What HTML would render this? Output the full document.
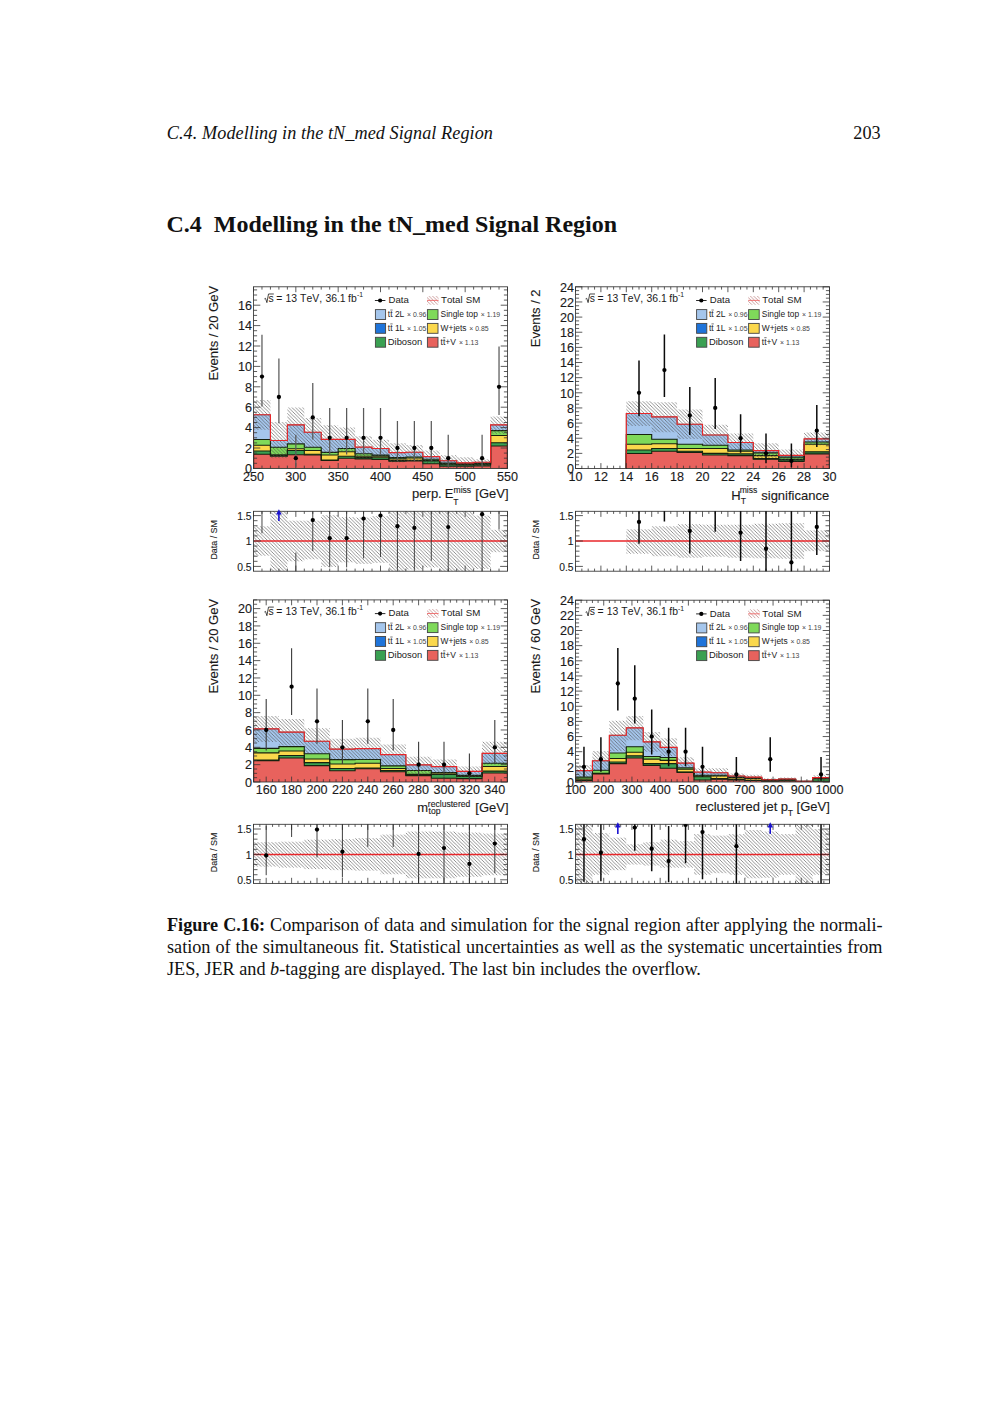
<!DOCTYPE html>
<html><head><meta charset="utf-8"><title>C.4 Modelling in the tN_med Signal Region</title>
<style>
html,body{margin:0;padding:0;background:#fff;}
body{width:1000px;height:1414px;position:relative;overflow:hidden;font-family:"Liberation Serif",serif;color:#111;}
.t{position:absolute;white-space:nowrap;line-height:1;}
.hdr{font-size:18.2px;font-style:italic;left:166.8px;top:124.4px;letter-spacing:0.07px;}
.pg{font-size:18.2px;left:853.3px;top:124.4px;}
.h1{font-size:24px;font-weight:bold;left:166.4px;top:212.2px;}
.cap{font-size:18.2px;left:167px;width:715.5px;text-align:justify;text-align-last:justify;white-space:normal;}
.cap.l{text-align-last:left;}
</style></head><body>
<div class="t hdr">C.4. Modelling in the tN_med Signal Region</div>
<div class="t pg">203</div>
<div class="t h1">C.4&nbsp; Modelling in the tN_med Signal Region</div>
<svg width="1000" height="1414" viewBox="0 0 1000 1414" style="position:absolute;left:0;top:0" font-family="Liberation Sans, sans-serif"><style>text{stroke:#1a1a1a;stroke-width:0.12px}.lg text{stroke:none}</style>
<defs><pattern id="h" patternUnits="userSpaceOnUse" width="3.5" height="3.5"><path d="M-1 -1L4.5 4.5M-1 2.5L1 4.5M2.5 -1L4.5 1" stroke="#4a4a4a" stroke-width="0.6" fill="none"/></pattern><pattern id="h2" patternUnits="userSpaceOnUse" width="2.6" height="2.6"><path d="M-1 -1L3.6 3.6M-1 1.6L1 3.6M1.6 -1L3.6 1" stroke="#4a4a4a" stroke-width="0.6" fill="none"/></pattern><pattern id="hr" patternUnits="userSpaceOnUse" width="3.5" height="3.5"><path d="M-1 -1L4.5 4.5M-1 2.5L1 4.5M2.5 -1L4.5 1" stroke="#b06868" stroke-width="0.65" fill="none"/></pattern></defs>
<clipPath id="c1"><rect x="253.5" y="286.8" width="254" height="181.6"/></clipPath>
<clipPath id="c1r"><rect x="253.5" y="511.3" width="254" height="59.9"/></clipPath>
<g clip-path="url(#c1)">
<polygon points="253.5,414.75 270.43,414.75 270.43,440.45 287.37,440.45 287.37,424.85 304.3,424.85 304.3,432.29 321.23,432.29 321.23,439.43 338.17,439.43 338.17,439.43 355.1,439.43 355.1,447.18 372.03,447.18 372.03,448.51 388.97,448.51 388.97,452.59 405.9,452.59 405.9,452.28 422.83,452.28 422.83,456.57 439.77,456.57 439.77,460.75 456.7,460.75 456.7,462.89 473.63,462.89 473.63,462.28 490.57,462.28 490.57,424.85 507.5,424.85 507.5,468.4 490.57,468.4 490.57,468.4 473.63,468.4 473.63,468.4 456.7,468.4 456.7,468.4 439.77,468.4 439.77,468.4 422.83,468.4 422.83,468.4 405.9,468.4 405.9,468.4 388.97,468.4 388.97,468.4 372.03,468.4 372.03,468.4 355.1,468.4 355.1,468.4 338.17,468.4 338.17,468.4 321.23,468.4 321.23,468.4 304.3,468.4 304.3,468.4 287.37,468.4 287.37,468.4 270.43,468.4 270.43,468.4 253.5,468.4" fill="#a5c6ec"/>
<polygon points="253.5,439.43 270.43,439.43 270.43,447.18 287.37,447.18 287.37,443.92 304.3,443.92 304.3,447.18 321.23,447.18 321.23,452.39 338.17,452.39 338.17,448.51 355.1,448.51 355.1,453.71 372.03,453.71 372.03,455.14 388.97,455.14 388.97,457.59 405.9,457.59 405.9,456.98 422.83,456.98 422.83,459.22 439.77,459.22 439.77,463.1 456.7,463.1 456.7,463.81 473.63,463.81 473.63,463.3 490.57,463.3 490.57,430.15 507.5,430.15 507.5,468.4 490.57,468.4 490.57,468.4 473.63,468.4 473.63,468.4 456.7,468.4 456.7,468.4 439.77,468.4 439.77,468.4 422.83,468.4 422.83,468.4 405.9,468.4 405.9,468.4 388.97,468.4 388.97,468.4 372.03,468.4 372.03,468.4 355.1,468.4 355.1,468.4 338.17,468.4 338.17,468.4 321.23,468.4 321.23,468.4 304.3,468.4 304.3,468.4 287.37,468.4 287.37,468.4 270.43,468.4 270.43,468.4 253.5,468.4" fill="#1f74da"/>
<polygon points="253.5,439.43 270.43,439.43 270.43,447.18 287.37,447.18 287.37,443.92 304.3,443.92 304.3,447.18 321.23,447.18 321.23,452.39 338.17,452.39 338.17,448.51 355.1,448.51 355.1,453.71 372.03,453.71 372.03,455.14 388.97,455.14 388.97,457.59 405.9,457.59 405.9,456.98 422.83,456.98 422.83,459.22 439.77,459.22 439.77,463.1 456.7,463.1 456.7,463.81 473.63,463.81 473.63,463.3 490.57,463.3 490.57,430.66 507.5,430.66 507.5,468.4 490.57,468.4 490.57,468.4 473.63,468.4 473.63,468.4 456.7,468.4 456.7,468.4 439.77,468.4 439.77,468.4 422.83,468.4 422.83,468.4 405.9,468.4 405.9,468.4 388.97,468.4 388.97,468.4 372.03,468.4 372.03,468.4 355.1,468.4 355.1,468.4 338.17,468.4 338.17,468.4 321.23,468.4 321.23,468.4 304.3,468.4 304.3,468.4 287.37,468.4 287.37,468.4 270.43,468.4 270.43,468.4 253.5,468.4" fill="#7fd95a"/>
<polygon points="253.5,445.25 270.43,445.25 270.43,455.14 287.37,455.14 287.37,448.82 304.3,448.82 304.3,450.45 321.23,450.45 321.23,455.04 338.17,455.04 338.17,451.77 355.1,451.77 355.1,456.26 372.03,456.26 372.03,456.16 388.97,456.16 388.97,458.91 405.9,458.91 405.9,458 422.83,458 422.83,460.44 439.77,460.44 439.77,463.81 456.7,463.81 456.7,464.32 473.63,464.32 473.63,463.91 490.57,463.91 490.57,435.56 507.5,435.56 507.5,468.4 490.57,468.4 490.57,468.4 473.63,468.4 473.63,468.4 456.7,468.4 456.7,468.4 439.77,468.4 439.77,468.4 422.83,468.4 422.83,468.4 405.9,468.4 405.9,468.4 388.97,468.4 388.97,468.4 372.03,468.4 372.03,468.4 355.1,468.4 355.1,468.4 338.17,468.4 338.17,468.4 321.23,468.4 321.23,468.4 304.3,468.4 304.3,468.4 287.37,468.4 287.37,468.4 270.43,468.4 270.43,468.4 253.5,468.4" fill="#fbd84c"/>
<polygon points="253.5,451.06 270.43,451.06 270.43,455.14 287.37,455.14 287.37,450.45 304.3,450.45 304.3,454.32 321.23,454.32 321.23,460.04 338.17,460.04 338.17,456.26 355.1,456.26 355.1,457.59 372.03,457.59 372.03,457.69 388.97,457.69 388.97,460.65 405.9,460.65 405.9,460.24 422.83,460.24 422.83,460.85 439.77,460.85 439.77,464.12 456.7,464.12 456.7,464.73 473.63,464.73 473.63,464.12 490.57,464.12 490.57,442.7 507.5,442.7 507.5,468.4 490.57,468.4 490.57,468.4 473.63,468.4 473.63,468.4 456.7,468.4 456.7,468.4 439.77,468.4 439.77,468.4 422.83,468.4 422.83,468.4 405.9,468.4 405.9,468.4 388.97,468.4 388.97,468.4 372.03,468.4 372.03,468.4 355.1,468.4 355.1,468.4 338.17,468.4 338.17,468.4 321.23,468.4 321.23,468.4 304.3,468.4 304.3,468.4 287.37,468.4 287.37,468.4 270.43,468.4 270.43,468.4 253.5,468.4" fill="#3aa052"/>
<polygon points="253.5,454.32 270.43,454.32 270.43,456.26 287.37,456.26 287.37,454.73 304.3,454.73 304.3,455.04 321.23,455.04 321.23,460.44 338.17,460.44 338.17,458.2 355.1,458.2 355.1,458.91 372.03,458.91 372.03,459.53 388.97,459.53 388.97,461.26 405.9,461.26 405.9,460.85 422.83,460.85 422.83,463.71 439.77,463.71 439.77,466.16 456.7,466.16 456.7,466.16 473.63,466.16 473.63,465.85 490.57,465.85 490.57,445.96 507.5,445.96 507.5,468.4 490.57,468.4 490.57,468.4 473.63,468.4 473.63,468.4 456.7,468.4 456.7,468.4 439.77,468.4 439.77,468.4 422.83,468.4 422.83,468.4 405.9,468.4 405.9,468.4 388.97,468.4 388.97,468.4 372.03,468.4 372.03,468.4 355.1,468.4 355.1,468.4 338.17,468.4 338.17,468.4 321.23,468.4 321.23,468.4 304.3,468.4 304.3,468.4 287.37,468.4 287.37,468.4 270.43,468.4 270.43,468.4 253.5,468.4" fill="#e8625d"/>
<polyline points="253.5,468.4 253.5,454.32 270.43,454.32 270.43,456.26 287.37,456.26 287.37,454.73 304.3,454.73 304.3,455.04 321.23,455.04 321.23,460.44 338.17,460.44 338.17,458.2 355.1,458.2 355.1,458.91 372.03,458.91 372.03,459.53 388.97,459.53 388.97,461.26 405.9,461.26 405.9,460.85 422.83,460.85 422.83,463.71 439.77,463.71 439.77,466.16 456.7,466.16 456.7,466.16 473.63,466.16 473.63,465.85 490.57,465.85 490.57,445.96 507.5,445.96 507.5,468.4" fill="none" stroke="#16220f" stroke-width="1.1"/>
<polyline points="253.5,468.4 253.5,451.06 270.43,451.06 270.43,455.14 287.37,455.14 287.37,450.45 304.3,450.45 304.3,454.32 321.23,454.32 321.23,460.04 338.17,460.04 338.17,456.26 355.1,456.26 355.1,457.59 372.03,457.59 372.03,457.69 388.97,457.69 388.97,460.65 405.9,460.65 405.9,460.24 422.83,460.24 422.83,460.85 439.77,460.85 439.77,464.12 456.7,464.12 456.7,464.73 473.63,464.73 473.63,464.12 490.57,464.12 490.57,442.7 507.5,442.7 507.5,468.4" fill="none" stroke="#16220f" stroke-width="1.1"/>
<polyline points="253.5,468.4 253.5,445.25 270.43,445.25 270.43,455.14 287.37,455.14 287.37,448.82 304.3,448.82 304.3,450.45 321.23,450.45 321.23,455.04 338.17,455.04 338.17,451.77 355.1,451.77 355.1,456.26 372.03,456.26 372.03,456.16 388.97,456.16 388.97,458.91 405.9,458.91 405.9,458 422.83,458 422.83,460.44 439.77,460.44 439.77,463.81 456.7,463.81 456.7,464.32 473.63,464.32 473.63,463.91 490.57,463.91 490.57,435.56 507.5,435.56 507.5,468.4" fill="none" stroke="#16220f" stroke-width="1.1"/>
<polyline points="253.5,468.4 253.5,439.43 270.43,439.43 270.43,447.18 287.37,447.18 287.37,443.92 304.3,443.92 304.3,447.18 321.23,447.18 321.23,452.39 338.17,452.39 338.17,448.51 355.1,448.51 355.1,453.71 372.03,453.71 372.03,455.14 388.97,455.14 388.97,457.59 405.9,457.59 405.9,456.98 422.83,456.98 422.83,459.22 439.77,459.22 439.77,463.1 456.7,463.1 456.7,463.81 473.63,463.81 473.63,463.3 490.57,463.3 490.57,430.66 507.5,430.66 507.5,468.4" fill="none" stroke="#16220f" stroke-width="1.1"/>
<polyline points="253.5,468.4 253.5,414.75 270.43,414.75 270.43,440.45 287.37,440.45 287.37,424.85 304.3,424.85 304.3,432.29 321.23,432.29 321.23,439.43 338.17,439.43 338.17,439.43 355.1,439.43 355.1,447.18 372.03,447.18 372.03,448.51 388.97,448.51 388.97,452.59 405.9,452.59 405.9,452.28 422.83,452.28 422.83,456.57 439.77,456.57 439.77,460.75 456.7,460.75 456.7,462.89 473.63,462.89 473.63,462.28 490.57,462.28 490.57,424.85 507.5,424.85 507.5,468.4" fill="none" stroke="#16220f" stroke-width="0.5"/>
<polygon points="253.5,400.06 270.43,400.06 270.43,421.89 287.37,421.89 287.37,407.61 304.3,407.61 304.3,417.91 321.23,417.91 321.23,425.15 338.17,425.15 338.17,427.6 355.1,427.6 355.1,436.17 372.03,436.17 372.03,439.84 388.97,439.84 388.97,443.31 405.9,443.31 405.9,444.94 422.83,444.94 422.83,450.45 439.77,450.45 439.77,455.14 456.7,455.14 456.7,457.18 473.63,457.18 473.63,459.22 490.57,459.22 490.57,416.38 507.5,416.38 507.5,433.72 490.57,433.72 490.57,466.36 473.63,466.36 473.63,467.89 456.7,467.89 456.7,467.38 439.77,467.38 439.77,463.3 422.83,463.3 422.83,461.26 405.9,461.26 405.9,462.28 388.97,462.28 388.97,457.18 372.03,457.18 372.03,458.2 355.1,458.2 355.1,452.08 338.17,452.08 338.17,453.1 321.23,453.1 321.23,446.98 304.3,446.98 304.3,442.9 287.37,442.9 287.37,458.2 270.43,458.2 270.43,429.64 253.5,429.64" fill="url(#h)"/>
<polyline points="253.5,468.4 253.5,414.75 270.43,414.75 270.43,440.45 287.37,440.45 287.37,424.85 304.3,424.85 304.3,432.29 321.23,432.29 321.23,439.43 338.17,439.43 338.17,439.43 355.1,439.43 355.1,447.18 372.03,447.18 372.03,448.51 388.97,448.51 388.97,452.59 405.9,452.59 405.9,452.28 422.83,452.28 422.83,456.57 439.77,456.57 439.77,460.75 456.7,460.75 456.7,462.89 473.63,462.89 473.63,462.28 490.57,462.28 490.57,424.85 507.5,424.85 507.5,468.4" fill="none" stroke="#e8262a" stroke-width="1.15"/>
</g>
<g clip-path="url(#c1r)">
<rect x="253.5" y="526.27" width="16.93" height="29.46" fill="url(#h)"/>
<rect x="270.43" y="505.44" width="16.93" height="71.12" fill="url(#h)"/>
<rect x="287.37" y="520.68" width="16.93" height="40.64" fill="url(#h)"/>
<rect x="304.3" y="520.68" width="16.93" height="38.61" fill="url(#h)"/>
<rect x="321.23" y="515.09" width="16.93" height="51.82" fill="url(#h)"/>
<rect x="338.17" y="517.12" width="16.93" height="45.21" fill="url(#h)"/>
<rect x="355.1" y="517.63" width="16.93" height="46.23" fill="url(#h)"/>
<rect x="372.03" y="516.11" width="16.93" height="46.74" fill="url(#h)"/>
<rect x="388.97" y="511.54" width="16.93" height="65.02" fill="url(#h)"/>
<rect x="405.9" y="505.44" width="16.93" height="64.01" fill="url(#h)"/>
<rect x="422.83" y="505.44" width="16.93" height="61.98" fill="url(#h)"/>
<rect x="439.77" y="505.44" width="16.93" height="71.12" fill="url(#h)"/>
<rect x="456.7" y="505.44" width="16.93" height="71.12" fill="url(#h)"/>
<rect x="473.63" y="515.6" width="16.93" height="53.34" fill="url(#h)"/>
<rect x="490.57" y="529.82" width="16.93" height="22.35" fill="url(#h)"/>
<line x1="253.5" y1="541" x2="507.5" y2="541" stroke="#e8262a" stroke-width="1.5"/>
</g>
<path d="M253.5 468.4L260.3 468.4M507.5 468.4L500.7 468.4M253.5 463.3L257.1 463.3M507.5 463.3L503.9 463.3M253.5 458.2L257.1 458.2M507.5 458.2L503.9 458.2M253.5 453.1L257.1 453.1M507.5 453.1L503.9 453.1M253.5 448L260.3 448M507.5 448L500.7 448M253.5 442.9L257.1 442.9M507.5 442.9L503.9 442.9M253.5 437.8L257.1 437.8M507.5 437.8L503.9 437.8M253.5 432.7L257.1 432.7M507.5 432.7L503.9 432.7M253.5 427.6L260.3 427.6M507.5 427.6L500.7 427.6M253.5 422.5L257.1 422.5M507.5 422.5L503.9 422.5M253.5 417.4L257.1 417.4M507.5 417.4L503.9 417.4M253.5 412.3L257.1 412.3M507.5 412.3L503.9 412.3M253.5 407.2L260.3 407.2M507.5 407.2L500.7 407.2M253.5 402.1L257.1 402.1M507.5 402.1L503.9 402.1M253.5 397L257.1 397M507.5 397L503.9 397M253.5 391.9L257.1 391.9M507.5 391.9L503.9 391.9M253.5 386.8L260.3 386.8M507.5 386.8L500.7 386.8M253.5 381.7L257.1 381.7M507.5 381.7L503.9 381.7M253.5 376.6L257.1 376.6M507.5 376.6L503.9 376.6M253.5 371.5L257.1 371.5M507.5 371.5L503.9 371.5M253.5 366.4L260.3 366.4M507.5 366.4L500.7 366.4M253.5 361.3L257.1 361.3M507.5 361.3L503.9 361.3M253.5 356.2L257.1 356.2M507.5 356.2L503.9 356.2M253.5 351.1L257.1 351.1M507.5 351.1L503.9 351.1M253.5 346L260.3 346M507.5 346L500.7 346M253.5 340.9L257.1 340.9M507.5 340.9L503.9 340.9M253.5 335.8L257.1 335.8M507.5 335.8L503.9 335.8M253.5 330.7L257.1 330.7M507.5 330.7L503.9 330.7M253.5 325.6L260.3 325.6M507.5 325.6L500.7 325.6M253.5 320.5L257.1 320.5M507.5 320.5L503.9 320.5M253.5 315.4L257.1 315.4M507.5 315.4L503.9 315.4M253.5 310.3L257.1 310.3M507.5 310.3L503.9 310.3M253.5 305.2L260.3 305.2M507.5 305.2L500.7 305.2M253.5 300.1L257.1 300.1M507.5 300.1L503.9 300.1M253.5 295L257.1 295M507.5 295L503.9 295M253.5 289.9L257.1 289.9M507.5 289.9L503.9 289.9M253.5 468.4L253.5 463M253.5 286.8L253.5 292.2M253.5 571.2L253.5 565.6M253.5 511.3L253.5 516.9M261.97 468.4L261.97 465.6M261.97 286.8L261.97 289.6M261.97 571.2L261.97 568.6M261.97 511.3L261.97 513.9M270.43 468.4L270.43 465.6M270.43 286.8L270.43 289.6M270.43 571.2L270.43 568.6M270.43 511.3L270.43 513.9M278.9 468.4L278.9 465.6M278.9 286.8L278.9 289.6M278.9 571.2L278.9 568.6M278.9 511.3L278.9 513.9M287.37 468.4L287.37 465.6M287.37 286.8L287.37 289.6M287.37 571.2L287.37 568.6M287.37 511.3L287.37 513.9M295.83 468.4L295.83 463M295.83 286.8L295.83 292.2M295.83 571.2L295.83 565.6M295.83 511.3L295.83 516.9M304.3 468.4L304.3 465.6M304.3 286.8L304.3 289.6M304.3 571.2L304.3 568.6M304.3 511.3L304.3 513.9M312.77 468.4L312.77 465.6M312.77 286.8L312.77 289.6M312.77 571.2L312.77 568.6M312.77 511.3L312.77 513.9M321.23 468.4L321.23 465.6M321.23 286.8L321.23 289.6M321.23 571.2L321.23 568.6M321.23 511.3L321.23 513.9M329.7 468.4L329.7 465.6M329.7 286.8L329.7 289.6M329.7 571.2L329.7 568.6M329.7 511.3L329.7 513.9M338.17 468.4L338.17 463M338.17 286.8L338.17 292.2M338.17 571.2L338.17 565.6M338.17 511.3L338.17 516.9M346.63 468.4L346.63 465.6M346.63 286.8L346.63 289.6M346.63 571.2L346.63 568.6M346.63 511.3L346.63 513.9M355.1 468.4L355.1 465.6M355.1 286.8L355.1 289.6M355.1 571.2L355.1 568.6M355.1 511.3L355.1 513.9M363.57 468.4L363.57 465.6M363.57 286.8L363.57 289.6M363.57 571.2L363.57 568.6M363.57 511.3L363.57 513.9M372.03 468.4L372.03 465.6M372.03 286.8L372.03 289.6M372.03 571.2L372.03 568.6M372.03 511.3L372.03 513.9M380.5 468.4L380.5 463M380.5 286.8L380.5 292.2M380.5 571.2L380.5 565.6M380.5 511.3L380.5 516.9M388.97 468.4L388.97 465.6M388.97 286.8L388.97 289.6M388.97 571.2L388.97 568.6M388.97 511.3L388.97 513.9M397.43 468.4L397.43 465.6M397.43 286.8L397.43 289.6M397.43 571.2L397.43 568.6M397.43 511.3L397.43 513.9M405.9 468.4L405.9 465.6M405.9 286.8L405.9 289.6M405.9 571.2L405.9 568.6M405.9 511.3L405.9 513.9M414.37 468.4L414.37 465.6M414.37 286.8L414.37 289.6M414.37 571.2L414.37 568.6M414.37 511.3L414.37 513.9M422.83 468.4L422.83 463M422.83 286.8L422.83 292.2M422.83 571.2L422.83 565.6M422.83 511.3L422.83 516.9M431.3 468.4L431.3 465.6M431.3 286.8L431.3 289.6M431.3 571.2L431.3 568.6M431.3 511.3L431.3 513.9M439.77 468.4L439.77 465.6M439.77 286.8L439.77 289.6M439.77 571.2L439.77 568.6M439.77 511.3L439.77 513.9M448.23 468.4L448.23 465.6M448.23 286.8L448.23 289.6M448.23 571.2L448.23 568.6M448.23 511.3L448.23 513.9M456.7 468.4L456.7 465.6M456.7 286.8L456.7 289.6M456.7 571.2L456.7 568.6M456.7 511.3L456.7 513.9M465.17 468.4L465.17 463M465.17 286.8L465.17 292.2M465.17 571.2L465.17 565.6M465.17 511.3L465.17 516.9M473.63 468.4L473.63 465.6M473.63 286.8L473.63 289.6M473.63 571.2L473.63 568.6M473.63 511.3L473.63 513.9M482.1 468.4L482.1 465.6M482.1 286.8L482.1 289.6M482.1 571.2L482.1 568.6M482.1 511.3L482.1 513.9M490.57 468.4L490.57 465.6M490.57 286.8L490.57 289.6M490.57 571.2L490.57 568.6M490.57 511.3L490.57 513.9M499.03 468.4L499.03 465.6M499.03 286.8L499.03 289.6M499.03 571.2L499.03 568.6M499.03 511.3L499.03 513.9M507.5 468.4L507.5 463M507.5 286.8L507.5 292.2M507.5 571.2L507.5 565.6M507.5 511.3L507.5 516.9M253.5 566.4L260.9 566.4M507.5 566.4L500.1 566.4M253.5 561.32L257.5 561.32M507.5 561.32L503.5 561.32M253.5 556.24L257.5 556.24M507.5 556.24L503.5 556.24M253.5 551.16L257.5 551.16M507.5 551.16L503.5 551.16M253.5 546.08L257.5 546.08M507.5 546.08L503.5 546.08M253.5 541L260.9 541M507.5 541L500.1 541M253.5 535.92L257.5 535.92M507.5 535.92L503.5 535.92M253.5 530.84L257.5 530.84M507.5 530.84L503.5 530.84M253.5 525.76L257.5 525.76M507.5 525.76L503.5 525.76M253.5 520.68L257.5 520.68M507.5 520.68L503.5 520.68M253.5 515.6L260.9 515.6M507.5 515.6L500.1 515.6" stroke="#333" stroke-width="0.8" fill="none"/>
<rect x="253.5" y="286.8" width="254" height="181.6" fill="none" stroke="#333" stroke-width="0.85"/>
<rect x="253.5" y="511.3" width="254" height="59.9" fill="none" stroke="#333" stroke-width="0.85"/>
<g clip-path="url(#c1)">
<line x1="261.97" y1="406.62" x2="261.97" y2="334.68" stroke="#5a5a5a" stroke-width="1.25"/>
<circle cx="261.97" cy="376.6" r="2.15" fill="#000"/>
<line x1="278.9" y1="423.33" x2="278.9" y2="358.55" stroke="#5a5a5a" stroke-width="1.25"/>
<circle cx="278.9" cy="397" r="2.15" fill="#000"/>
<line x1="295.83" y1="466.64" x2="295.83" y2="434.75" stroke="#5a5a5a" stroke-width="1.25"/>
<circle cx="295.83" cy="458.2" r="2.15" fill="#000"/>
<line x1="312.77" y1="439.42" x2="312.77" y2="382.9" stroke="#5a5a5a" stroke-width="1.25"/>
<circle cx="312.77" cy="417.4" r="2.15" fill="#000"/>
<line x1="329.7" y1="454.46" x2="329.7" y2="408.04" stroke="#5a5a5a" stroke-width="1.25"/>
<circle cx="329.7" cy="437.8" r="2.15" fill="#000"/>
<line x1="346.63" y1="454.46" x2="346.63" y2="408.04" stroke="#5a5a5a" stroke-width="1.25"/>
<circle cx="346.63" cy="437.8" r="2.15" fill="#000"/>
<line x1="363.57" y1="454.46" x2="363.57" y2="408.04" stroke="#5a5a5a" stroke-width="1.25"/>
<circle cx="363.57" cy="437.8" r="2.15" fill="#000"/>
<line x1="380.5" y1="454.46" x2="380.5" y2="408.04" stroke="#5a5a5a" stroke-width="1.25"/>
<circle cx="380.5" cy="437.8" r="2.15" fill="#000"/>
<line x1="397.43" y1="461.18" x2="397.43" y2="421.1" stroke="#5a5a5a" stroke-width="1.25"/>
<circle cx="397.43" cy="448" r="2.15" fill="#000"/>
<line x1="414.37" y1="461.18" x2="414.37" y2="421.1" stroke="#5a5a5a" stroke-width="1.25"/>
<circle cx="414.37" cy="448" r="2.15" fill="#000"/>
<line x1="431.3" y1="461.18" x2="431.3" y2="421.1" stroke="#5a5a5a" stroke-width="1.25"/>
<circle cx="431.3" cy="448" r="2.15" fill="#000"/>
<line x1="448.23" y1="466.64" x2="448.23" y2="434.75" stroke="#5a5a5a" stroke-width="1.25"/>
<circle cx="448.23" cy="458.2" r="2.15" fill="#000"/>
<line x1="482.1" y1="466.64" x2="482.1" y2="434.75" stroke="#5a5a5a" stroke-width="1.25"/>
<circle cx="482.1" cy="458.2" r="2.15" fill="#000"/>
<line x1="499.03" y1="415.03" x2="499.03" y2="346.56" stroke="#5a5a5a" stroke-width="1.25"/>
<circle cx="499.03" cy="386.8" r="2.15" fill="#000"/>
</g>
<g clip-path="url(#c1r)">
<line x1="261.97" y1="533.3" x2="261.97" y2="465.19" stroke="#333" stroke-width="0.9"/>
<line x1="295.83" y1="589.74" x2="295.83" y2="552.55" stroke="#333" stroke-width="0.9"/>
<circle cx="295.83" cy="579.9" r="2.15" fill="#000"/>
<line x1="312.77" y1="551.03" x2="312.77" y2="471.52" stroke="#333" stroke-width="0.9"/>
<circle cx="312.77" cy="520.05" r="2.15" fill="#000"/>
<line x1="329.7" y1="567.35" x2="329.7" y2="485.94" stroke="#333" stroke-width="0.9"/>
<circle cx="329.7" cy="538.14" r="2.15" fill="#000"/>
<line x1="346.63" y1="567.35" x2="346.63" y2="485.94" stroke="#333" stroke-width="0.9"/>
<circle cx="346.63" cy="538.14" r="2.15" fill="#000"/>
<line x1="363.57" y1="558.41" x2="363.57" y2="447.26" stroke="#333" stroke-width="0.9"/>
<circle cx="363.57" cy="518.53" r="2.15" fill="#000"/>
<line x1="380.5" y1="557.08" x2="380.5" y2="441.48" stroke="#333" stroke-width="0.9"/>
<circle cx="380.5" cy="515.6" r="2.15" fill="#000"/>
<line x1="397.43" y1="568.6" x2="397.43" y2="439.83" stroke="#333" stroke-width="0.9"/>
<circle cx="397.43" cy="526.25" r="2.15" fill="#000"/>
<line x1="414.37" y1="569.18" x2="414.37" y2="443.65" stroke="#333" stroke-width="0.9"/>
<circle cx="414.37" cy="527.9" r="2.15" fill="#000"/>
<line x1="431.3" y1="560.79" x2="431.3" y2="388.73" stroke="#333" stroke-width="0.9"/>
<line x1="448.23" y1="580.6" x2="448.23" y2="378.31" stroke="#333" stroke-width="0.9"/>
<circle cx="448.23" cy="527.09" r="2.15" fill="#000"/>
<line x1="482.1" y1="578.38" x2="482.1" y2="335.94" stroke="#333" stroke-width="0.9"/>
<circle cx="482.1" cy="514.24" r="2.15" fill="#000"/>
<line x1="499.03" y1="529.56" x2="499.03" y2="449.69" stroke="#333" stroke-width="0.9"/>
</g>
<path d="M278.9 520.9V512.3" stroke="#1a12d0" stroke-width="1.6" fill="none"/>
<path d="M278.9 509.3L276.1 514.6L281.7 514.6Z" fill="#1a12d0"/>
<text x="251.9" y="473.1" font-size="12.6" text-anchor="end" fill="#1a1a1a">0</text>
<text x="251.9" y="452.7" font-size="12.6" text-anchor="end" fill="#1a1a1a">2</text>
<text x="251.9" y="432.3" font-size="12.6" text-anchor="end" fill="#1a1a1a">4</text>
<text x="251.9" y="411.9" font-size="12.6" text-anchor="end" fill="#1a1a1a">6</text>
<text x="251.9" y="391.5" font-size="12.6" text-anchor="end" fill="#1a1a1a">8</text>
<text x="251.9" y="371.1" font-size="12.6" text-anchor="end" fill="#1a1a1a">10</text>
<text x="251.9" y="350.7" font-size="12.6" text-anchor="end" fill="#1a1a1a">12</text>
<text x="251.9" y="330.3" font-size="12.6" text-anchor="end" fill="#1a1a1a">14</text>
<text x="251.9" y="309.9" font-size="12.6" text-anchor="end" fill="#1a1a1a">16</text>
<text x="253.5" y="480.5" font-size="12.6" text-anchor="middle" fill="#1a1a1a">250</text>
<text x="295.83" y="480.5" font-size="12.6" text-anchor="middle" fill="#1a1a1a">300</text>
<text x="338.17" y="480.5" font-size="12.6" text-anchor="middle" fill="#1a1a1a">350</text>
<text x="380.5" y="480.5" font-size="12.6" text-anchor="middle" fill="#1a1a1a">400</text>
<text x="422.83" y="480.5" font-size="12.6" text-anchor="middle" fill="#1a1a1a">450</text>
<text x="465.17" y="480.5" font-size="12.6" text-anchor="middle" fill="#1a1a1a">500</text>
<text x="507.5" y="480.5" font-size="12.6" text-anchor="middle" fill="#1a1a1a">550</text>
<text x="251.6" y="519.7" font-size="10.3" text-anchor="end" fill="#1a1a1a">1.5</text>
<text x="251.6" y="545.1" font-size="10.3" text-anchor="end" fill="#1a1a1a">1</text>
<text x="251.6" y="570.5" font-size="10.3" text-anchor="end" fill="#1a1a1a">0.5</text>
<text transform="translate(218.3,285.9) rotate(-90)" font-size="13.0" text-anchor="end" style="font-kerning:none" fill="#1a1a1a">Events / 20 GeV</text>
<text transform="translate(217.3,539.85) rotate(-90)" font-size="8.9" text-anchor="middle" style="font-kerning:none" fill="#1a1a1a">Data / SM</text>
<text x="508.6" y="497.9" font-size="13.0" text-anchor="end" fill="#1a1a1a" style="font-kerning:none">[GeV]</text><text x="412.1" y="497.9" font-size="13.0" fill="#1a1a1a" style="font-kerning:none">perp.</text><text x="444.8" y="497.9" font-size="13.0" fill="#1a1a1a" style="font-kerning:none">E</text><text x="453.5" y="492.7" font-size="8.6" fill="#1a1a1a" style="font-kerning:none">miss</text><text x="453.2" y="505.1" font-size="8.6" fill="#1a1a1a" style="font-kerning:none">T</text>
<g class="lg" transform="translate(0,0)"><path d="M264.4 298.9l1.1 -0.6l1.4 4.3l1.6 -8.6h5.3" stroke="#1a1a1a" stroke-width="0.8" fill="none"/><text y="301.9" font-size="10.4" fill="#1a1a1a" style="font-kerning:none"><tspan x="268.6">s</tspan><tspan x="276.2">=</tspan><tspan x="285.5">13</tspan><tspan x="300.1">TeV,</tspan><tspan x="325.4">36.1</tspan><tspan x="348.1">fb</tspan><tspan x="356.9" font-size="6.8" dy="-4.6">-1</tspan></text><line x1="374.9" y1="300.5" x2="385.4" y2="300.5" stroke="#111" stroke-width="0.9"/><circle cx="380.1" cy="300.5" r="2.1" fill="#000"/><text x="388.6" y="303.2" font-size="9.6" fill="#1a1a1a">Data</text><rect x="427" y="296" width="11.6" height="8.8" fill="url(#hr)"/><line x1="427" y1="300.4" x2="438.6" y2="300.4" stroke="#ee6a6a" stroke-width="0.9"/><text x="441.0" y="303.2" font-size="9.7" fill="#1a1a1a" style="font-kerning:none;word-spacing:0.6px">Total SM</text><rect x="375.4" y="309.6" width="10.2" height="9.9" fill="#a5c6ec" stroke="#444" stroke-width="0.9"/><rect x="427.4" y="309.6" width="10.6" height="9.9" fill="#7fd95a" stroke="#444" stroke-width="0.9"/><text x="387.8" y="317" font-size="8.5" fill="#1a1a1a">tt 2L <tspan font-size="6.9" dx="0.6" fill="#444" stroke="none">× 0.96</tspan></text><line x1="390.3" y1="310" x2="392.6" y2="310" stroke="#1a1a1a" stroke-width="0.6"/><text x="440.6" y="317" font-size="8.4" fill="#1a1a1a">Single top <tspan font-size="6.9" dx="0.6" fill="#444" stroke="none">× 1.19</tspan></text><rect x="375.4" y="323.4" width="10.2" height="9.9" fill="#1f74da" stroke="#444" stroke-width="0.9"/><rect x="427.4" y="323.4" width="10.6" height="9.9" fill="#fbd84c" stroke="#444" stroke-width="0.9"/><text x="387.8" y="330.9" font-size="8.5" fill="#1a1a1a">tt 1L <tspan font-size="6.9" dx="0.6" fill="#444" stroke="none">× 1.05</tspan></text><line x1="390.3" y1="323.9" x2="392.6" y2="323.9" stroke="#1a1a1a" stroke-width="0.6"/><text x="440.6" y="330.9" font-size="8.4" fill="#1a1a1a">W+jets <tspan font-size="6.9" dx="0.6" fill="#444" stroke="none">× 0.85</tspan></text><rect x="375.4" y="337.3" width="10.2" height="9.9" fill="#3aa052" stroke="#444" stroke-width="0.9"/><rect x="427.4" y="337.3" width="10.6" height="9.9" fill="#e8625d" stroke="#444" stroke-width="0.9"/><text x="387.8" y="344.7" font-size="9.4" fill="#1a1a1a">Diboson</text><text x="440.6" y="344.7" font-size="8.5" fill="#1a1a1a">tt+V <tspan font-size="6.9" dx="0.6" fill="#444" stroke="none">× 1.13</tspan></text><line x1="443.1" y1="337.7" x2="445.4" y2="337.7" stroke="#1a1a1a" stroke-width="0.6"/></g>
<clipPath id="c2"><rect x="575.5" y="286.8" width="254" height="181.7"/></clipPath>
<clipPath id="c2r"><rect x="575.5" y="511.3" width="254" height="59.9"/></clipPath>
<g clip-path="url(#c2)">
<polygon points="626.3,413.47 651.7,413.47 651.7,416.87 677.1,416.87 677.1,424.22 702.5,424.22 702.5,434.96 727.9,434.96 727.9,442.46 753.3,442.46 753.3,450.63 778.7,450.63 778.7,455.4 804.1,455.4 804.1,438.83 829.5,438.83 829.5,468.5 804.1,468.5 804.1,468.5 778.7,468.5 778.7,468.5 753.3,468.5 753.3,468.5 727.9,468.5 727.9,468.5 702.5,468.5 702.5,468.5 677.1,468.5 677.1,468.5 651.7,468.5 651.7,468.5 626.3,468.5" fill="#a5c6ec"/>
<polygon points="626.3,434.51 651.7,434.51 651.7,439.28 677.1,439.28 677.1,444.28 702.5,444.28 702.5,445.26 727.9,445.26 727.9,450.03 753.3,450.03 753.3,452.83 778.7,452.83 778.7,457.14 804.1,457.14 804.1,441.63 829.5,441.63 829.5,468.5 804.1,468.5 804.1,468.5 778.7,468.5 778.7,468.5 753.3,468.5 753.3,468.5 727.9,468.5 727.9,468.5 702.5,468.5 702.5,468.5 677.1,468.5 677.1,468.5 651.7,468.5 651.7,468.5 626.3,468.5" fill="#1f74da"/>
<polygon points="626.3,434.51 651.7,434.51 651.7,439.28 677.1,439.28 677.1,444.28 702.5,444.28 702.5,445.26 727.9,445.26 727.9,450.03 753.3,450.03 753.3,452.83 778.7,452.83 778.7,457.14 804.1,457.14 804.1,442 829.5,442 829.5,468.5 804.1,468.5 804.1,468.5 778.7,468.5 778.7,468.5 753.3,468.5 753.3,468.5 727.9,468.5 727.9,468.5 702.5,468.5 702.5,468.5 677.1,468.5 677.1,468.5 651.7,468.5 651.7,468.5 626.3,468.5" fill="#7fd95a"/>
<polygon points="626.3,444.28 651.7,444.28 651.7,443.75 677.1,443.75 677.1,448.52 702.5,448.52 702.5,448.52 727.9,448.52 727.9,451.32 753.3,451.32 753.3,455.63 778.7,455.63 778.7,459.42 804.1,459.42 804.1,444.28 829.5,444.28 829.5,468.5 804.1,468.5 804.1,468.5 778.7,468.5 778.7,468.5 753.3,468.5 753.3,468.5 727.9,468.5 727.9,468.5 702.5,468.5 702.5,468.5 677.1,468.5 677.1,468.5 651.7,468.5 651.7,468.5 626.3,468.5" fill="#fbd84c"/>
<polygon points="626.3,450.03 651.7,450.03 651.7,448.52 677.1,448.52 677.1,451.32 702.5,451.32 702.5,453.36 727.9,453.36 727.9,453.89 753.3,453.89 753.3,458.66 778.7,458.66 778.7,459.87 804.1,459.87 804.1,451.85 829.5,451.85 829.5,468.5 804.1,468.5 804.1,468.5 778.7,468.5 778.7,468.5 753.3,468.5 753.3,468.5 727.9,468.5 727.9,468.5 702.5,468.5 702.5,468.5 677.1,468.5 677.1,468.5 651.7,468.5 651.7,468.5 626.3,468.5" fill="#3aa052"/>
<polygon points="626.3,453.44 651.7,453.44 651.7,451.32 677.1,451.32 677.1,452.38 702.5,452.38 702.5,454.95 727.9,454.95 727.9,455.63 753.3,455.63 753.3,459.26 778.7,459.26 778.7,461.38 804.1,461.38 804.1,453.89 829.5,453.89 829.5,468.5 804.1,468.5 804.1,468.5 778.7,468.5 778.7,468.5 753.3,468.5 753.3,468.5 727.9,468.5 727.9,468.5 702.5,468.5 702.5,468.5 677.1,468.5 677.1,468.5 651.7,468.5 651.7,468.5 626.3,468.5" fill="#e8625d"/>
<polyline points="626.3,468.5 626.3,453.44 651.7,453.44 651.7,451.32 677.1,451.32 677.1,452.38 702.5,452.38 702.5,454.95 727.9,454.95 727.9,455.63 753.3,455.63 753.3,459.26 778.7,459.26 778.7,461.38 804.1,461.38 804.1,453.89 829.5,453.89 829.5,468.5" fill="none" stroke="#16220f" stroke-width="1.1"/>
<polyline points="626.3,468.5 626.3,450.03 651.7,450.03 651.7,448.52 677.1,448.52 677.1,451.32 702.5,451.32 702.5,453.36 727.9,453.36 727.9,453.89 753.3,453.89 753.3,458.66 778.7,458.66 778.7,459.87 804.1,459.87 804.1,451.85 829.5,451.85 829.5,468.5" fill="none" stroke="#16220f" stroke-width="1.1"/>
<polyline points="626.3,468.5 626.3,444.28 651.7,444.28 651.7,443.75 677.1,443.75 677.1,448.52 702.5,448.52 702.5,448.52 727.9,448.52 727.9,451.32 753.3,451.32 753.3,455.63 778.7,455.63 778.7,459.42 804.1,459.42 804.1,444.28 829.5,444.28 829.5,468.5" fill="none" stroke="#16220f" stroke-width="1.1"/>
<polyline points="626.3,468.5 626.3,434.51 651.7,434.51 651.7,439.28 677.1,439.28 677.1,444.28 702.5,444.28 702.5,445.26 727.9,445.26 727.9,450.03 753.3,450.03 753.3,452.83 778.7,452.83 778.7,457.14 804.1,457.14 804.1,442 829.5,442 829.5,468.5" fill="none" stroke="#16220f" stroke-width="1.1"/>
<polyline points="626.3,468.5 626.3,413.47 651.7,413.47 651.7,416.87 677.1,416.87 677.1,424.22 702.5,424.22 702.5,434.96 727.9,434.96 727.9,442.46 753.3,442.46 753.3,450.63 778.7,450.63 778.7,455.4 804.1,455.4 804.1,438.83 829.5,438.83 829.5,468.5" fill="none" stroke="#16220f" stroke-width="0.5"/>
<polygon points="626.3,401.13 651.7,401.13 651.7,402.26 677.1,402.26 677.1,409.45 702.5,409.45 702.5,424.82 727.9,424.82 727.9,433.45 753.3,433.45 753.3,443.14 778.7,443.14 778.7,449.57 804.1,449.57 804.1,432.39 829.5,432.39 829.5,445.26 804.1,445.26 804.1,461.31 778.7,461.31 778.7,457.9 753.3,457.9 753.3,451.85 727.9,451.85 727.9,445.03 702.5,445.03 702.5,438.98 677.1,438.98 677.1,432.16 651.7,432.16 651.7,426.11 626.3,426.11" fill="url(#h)"/>
<polyline points="626.3,468.5 626.3,413.47 651.7,413.47 651.7,416.87 677.1,416.87 677.1,424.22 702.5,424.22 702.5,434.96 727.9,434.96 727.9,442.46 753.3,442.46 753.3,450.63 778.7,450.63 778.7,455.4 804.1,455.4 804.1,438.83 829.5,438.83 829.5,468.5" fill="none" stroke="#e8262a" stroke-width="1.15"/>
</g>
<g clip-path="url(#c2r)">
<rect x="626.3" y="529.32" width="25.4" height="24.38" fill="url(#h)"/>
<rect x="651.7" y="526.27" width="25.4" height="29.97" fill="url(#h)"/>
<rect x="677.1" y="524.24" width="25.4" height="33.53" fill="url(#h)"/>
<rect x="702.5" y="524.74" width="25.4" height="32" fill="url(#h)"/>
<rect x="727.9" y="524.74" width="25.4" height="33.02" fill="url(#h)"/>
<rect x="753.3" y="523.73" width="25.4" height="34.54" fill="url(#h)"/>
<rect x="778.7" y="523.22" width="25.4" height="35.56" fill="url(#h)"/>
<rect x="804.1" y="530.33" width="25.4" height="20.83" fill="url(#h)"/>
<line x1="575.5" y1="541" x2="829.5" y2="541" stroke="#e8262a" stroke-width="1.5"/>
</g>
<path d="M575.5 468.5L582.3 468.5M829.5 468.5L822.7 468.5M575.5 464.71L579.1 464.71M829.5 464.71L825.9 464.71M575.5 460.93L579.1 460.93M829.5 460.93L825.9 460.93M575.5 457.14L579.1 457.14M829.5 457.14L825.9 457.14M575.5 453.36L582.3 453.36M829.5 453.36L822.7 453.36M575.5 449.57L579.1 449.57M829.5 449.57L825.9 449.57M575.5 445.79L579.1 445.79M829.5 445.79L825.9 445.79M575.5 442L579.1 442M829.5 442L825.9 442M575.5 438.22L582.3 438.22M829.5 438.22L822.7 438.22M575.5 434.44L579.1 434.44M829.5 434.44L825.9 434.44M575.5 430.65L579.1 430.65M829.5 430.65L825.9 430.65M575.5 426.87L579.1 426.87M829.5 426.87L825.9 426.87M575.5 423.08L582.3 423.08M829.5 423.08L822.7 423.08M575.5 419.3L579.1 419.3M829.5 419.3L825.9 419.3M575.5 415.51L579.1 415.51M829.5 415.51L825.9 415.51M575.5 411.73L579.1 411.73M829.5 411.73L825.9 411.73M575.5 407.94L582.3 407.94M829.5 407.94L822.7 407.94M575.5 404.15L579.1 404.15M829.5 404.15L825.9 404.15M575.5 400.37L579.1 400.37M829.5 400.37L825.9 400.37M575.5 396.58L579.1 396.58M829.5 396.58L825.9 396.58M575.5 392.8L582.3 392.8M829.5 392.8L822.7 392.8M575.5 389.01L579.1 389.01M829.5 389.01L825.9 389.01M575.5 385.23L579.1 385.23M829.5 385.23L825.9 385.23M575.5 381.44L579.1 381.44M829.5 381.44L825.9 381.44M575.5 377.66L582.3 377.66M829.5 377.66L822.7 377.66M575.5 373.88L579.1 373.88M829.5 373.88L825.9 373.88M575.5 370.09L579.1 370.09M829.5 370.09L825.9 370.09M575.5 366.31L579.1 366.31M829.5 366.31L825.9 366.31M575.5 362.52L582.3 362.52M829.5 362.52L822.7 362.52M575.5 358.74L579.1 358.74M829.5 358.74L825.9 358.74M575.5 354.95L579.1 354.95M829.5 354.95L825.9 354.95M575.5 351.16L579.1 351.16M829.5 351.16L825.9 351.16M575.5 347.38L582.3 347.38M829.5 347.38L822.7 347.38M575.5 343.6L579.1 343.6M829.5 343.6L825.9 343.6M575.5 339.81L579.1 339.81M829.5 339.81L825.9 339.81M575.5 336.02L579.1 336.02M829.5 336.02L825.9 336.02M575.5 332.24L582.3 332.24M829.5 332.24L822.7 332.24M575.5 328.45L579.1 328.45M829.5 328.45L825.9 328.45M575.5 324.67L579.1 324.67M829.5 324.67L825.9 324.67M575.5 320.88L579.1 320.88M829.5 320.88L825.9 320.88M575.5 317.1L582.3 317.1M829.5 317.1L822.7 317.1M575.5 313.31L579.1 313.31M829.5 313.31L825.9 313.31M575.5 309.53L579.1 309.53M829.5 309.53L825.9 309.53M575.5 305.75L579.1 305.75M829.5 305.75L825.9 305.75M575.5 301.96L582.3 301.96M829.5 301.96L822.7 301.96M575.5 298.17L579.1 298.17M829.5 298.17L825.9 298.17M575.5 294.39L579.1 294.39M829.5 294.39L825.9 294.39M575.5 290.61L579.1 290.61M829.5 290.61L825.9 290.61M575.5 286.82L582.3 286.82M829.5 286.82L822.7 286.82M575.5 468.5L575.5 463.1M575.5 286.8L575.5 292.2M575.5 571.2L575.5 565.6M575.5 511.3L575.5 516.9M581.85 468.5L581.85 465.7M581.85 286.8L581.85 289.6M581.85 571.2L581.85 568.6M581.85 511.3L581.85 513.9M588.2 468.5L588.2 465.7M588.2 286.8L588.2 289.6M588.2 571.2L588.2 568.6M588.2 511.3L588.2 513.9M594.55 468.5L594.55 465.7M594.55 286.8L594.55 289.6M594.55 571.2L594.55 568.6M594.55 511.3L594.55 513.9M600.9 468.5L600.9 463.1M600.9 286.8L600.9 292.2M600.9 571.2L600.9 565.6M600.9 511.3L600.9 516.9M607.25 468.5L607.25 465.7M607.25 286.8L607.25 289.6M607.25 571.2L607.25 568.6M607.25 511.3L607.25 513.9M613.6 468.5L613.6 465.7M613.6 286.8L613.6 289.6M613.6 571.2L613.6 568.6M613.6 511.3L613.6 513.9M619.95 468.5L619.95 465.7M619.95 286.8L619.95 289.6M619.95 571.2L619.95 568.6M619.95 511.3L619.95 513.9M626.3 468.5L626.3 463.1M626.3 286.8L626.3 292.2M626.3 571.2L626.3 565.6M626.3 511.3L626.3 516.9M632.65 468.5L632.65 465.7M632.65 286.8L632.65 289.6M632.65 571.2L632.65 568.6M632.65 511.3L632.65 513.9M639 468.5L639 465.7M639 286.8L639 289.6M639 571.2L639 568.6M639 511.3L639 513.9M645.35 468.5L645.35 465.7M645.35 286.8L645.35 289.6M645.35 571.2L645.35 568.6M645.35 511.3L645.35 513.9M651.7 468.5L651.7 463.1M651.7 286.8L651.7 292.2M651.7 571.2L651.7 565.6M651.7 511.3L651.7 516.9M658.05 468.5L658.05 465.7M658.05 286.8L658.05 289.6M658.05 571.2L658.05 568.6M658.05 511.3L658.05 513.9M664.4 468.5L664.4 465.7M664.4 286.8L664.4 289.6M664.4 571.2L664.4 568.6M664.4 511.3L664.4 513.9M670.75 468.5L670.75 465.7M670.75 286.8L670.75 289.6M670.75 571.2L670.75 568.6M670.75 511.3L670.75 513.9M677.1 468.5L677.1 463.1M677.1 286.8L677.1 292.2M677.1 571.2L677.1 565.6M677.1 511.3L677.1 516.9M683.45 468.5L683.45 465.7M683.45 286.8L683.45 289.6M683.45 571.2L683.45 568.6M683.45 511.3L683.45 513.9M689.8 468.5L689.8 465.7M689.8 286.8L689.8 289.6M689.8 571.2L689.8 568.6M689.8 511.3L689.8 513.9M696.15 468.5L696.15 465.7M696.15 286.8L696.15 289.6M696.15 571.2L696.15 568.6M696.15 511.3L696.15 513.9M702.5 468.5L702.5 463.1M702.5 286.8L702.5 292.2M702.5 571.2L702.5 565.6M702.5 511.3L702.5 516.9M708.85 468.5L708.85 465.7M708.85 286.8L708.85 289.6M708.85 571.2L708.85 568.6M708.85 511.3L708.85 513.9M715.2 468.5L715.2 465.7M715.2 286.8L715.2 289.6M715.2 571.2L715.2 568.6M715.2 511.3L715.2 513.9M721.55 468.5L721.55 465.7M721.55 286.8L721.55 289.6M721.55 571.2L721.55 568.6M721.55 511.3L721.55 513.9M727.9 468.5L727.9 463.1M727.9 286.8L727.9 292.2M727.9 571.2L727.9 565.6M727.9 511.3L727.9 516.9M734.25 468.5L734.25 465.7M734.25 286.8L734.25 289.6M734.25 571.2L734.25 568.6M734.25 511.3L734.25 513.9M740.6 468.5L740.6 465.7M740.6 286.8L740.6 289.6M740.6 571.2L740.6 568.6M740.6 511.3L740.6 513.9M746.95 468.5L746.95 465.7M746.95 286.8L746.95 289.6M746.95 571.2L746.95 568.6M746.95 511.3L746.95 513.9M753.3 468.5L753.3 463.1M753.3 286.8L753.3 292.2M753.3 571.2L753.3 565.6M753.3 511.3L753.3 516.9M759.65 468.5L759.65 465.7M759.65 286.8L759.65 289.6M759.65 571.2L759.65 568.6M759.65 511.3L759.65 513.9M766 468.5L766 465.7M766 286.8L766 289.6M766 571.2L766 568.6M766 511.3L766 513.9M772.35 468.5L772.35 465.7M772.35 286.8L772.35 289.6M772.35 571.2L772.35 568.6M772.35 511.3L772.35 513.9M778.7 468.5L778.7 463.1M778.7 286.8L778.7 292.2M778.7 571.2L778.7 565.6M778.7 511.3L778.7 516.9M785.05 468.5L785.05 465.7M785.05 286.8L785.05 289.6M785.05 571.2L785.05 568.6M785.05 511.3L785.05 513.9M791.4 468.5L791.4 465.7M791.4 286.8L791.4 289.6M791.4 571.2L791.4 568.6M791.4 511.3L791.4 513.9M797.75 468.5L797.75 465.7M797.75 286.8L797.75 289.6M797.75 571.2L797.75 568.6M797.75 511.3L797.75 513.9M804.1 468.5L804.1 463.1M804.1 286.8L804.1 292.2M804.1 571.2L804.1 565.6M804.1 511.3L804.1 516.9M810.45 468.5L810.45 465.7M810.45 286.8L810.45 289.6M810.45 571.2L810.45 568.6M810.45 511.3L810.45 513.9M816.8 468.5L816.8 465.7M816.8 286.8L816.8 289.6M816.8 571.2L816.8 568.6M816.8 511.3L816.8 513.9M823.15 468.5L823.15 465.7M823.15 286.8L823.15 289.6M823.15 571.2L823.15 568.6M823.15 511.3L823.15 513.9M829.5 468.5L829.5 463.1M829.5 286.8L829.5 292.2M829.5 571.2L829.5 565.6M829.5 511.3L829.5 516.9M575.5 566.4L582.9 566.4M829.5 566.4L822.1 566.4M575.5 561.32L579.5 561.32M829.5 561.32L825.5 561.32M575.5 556.24L579.5 556.24M829.5 556.24L825.5 556.24M575.5 551.16L579.5 551.16M829.5 551.16L825.5 551.16M575.5 546.08L579.5 546.08M829.5 546.08L825.5 546.08M575.5 541L582.9 541M829.5 541L822.1 541M575.5 535.92L579.5 535.92M829.5 535.92L825.5 535.92M575.5 530.84L579.5 530.84M829.5 530.84L825.5 530.84M575.5 525.76L579.5 525.76M829.5 525.76L825.5 525.76M575.5 520.68L579.5 520.68M829.5 520.68L825.5 520.68M575.5 515.6L582.9 515.6M829.5 515.6L822.1 515.6" stroke="#333" stroke-width="0.8" fill="none"/>
<rect x="575.5" y="286.8" width="254" height="181.7" fill="none" stroke="#333" stroke-width="0.85"/>
<rect x="575.5" y="511.3" width="254" height="59.9" fill="none" stroke="#333" stroke-width="0.85"/>
<g clip-path="url(#c2)">
<line x1="639" y1="416.33" x2="639" y2="360.51" stroke="#0a0a0a" stroke-width="1.5"/>
<circle cx="639" cy="392.8" r="2.15" fill="#000"/>
<line x1="664.4" y1="397.03" x2="664.4" y2="334.53" stroke="#0a0a0a" stroke-width="1.5"/>
<circle cx="664.4" cy="370.09" r="2.15" fill="#000"/>
<line x1="689.8" y1="435.05" x2="689.8" y2="386.97" stroke="#0a0a0a" stroke-width="1.5"/>
<circle cx="689.8" cy="415.51" r="2.15" fill="#000"/>
<line x1="715.2" y1="428.89" x2="715.2" y2="378.08" stroke="#0a0a0a" stroke-width="1.5"/>
<circle cx="715.2" cy="407.94" r="2.15" fill="#000"/>
<line x1="740.6" y1="452.71" x2="740.6" y2="414.28" stroke="#0a0a0a" stroke-width="1.5"/>
<circle cx="740.6" cy="438.22" r="2.15" fill="#000"/>
<line x1="766" y1="463.14" x2="766" y2="433.4" stroke="#0a0a0a" stroke-width="1.5"/>
<circle cx="766" cy="453.36" r="2.15" fill="#000"/>
<line x1="791.4" y1="467.19" x2="791.4" y2="443.53" stroke="#0a0a0a" stroke-width="1.5"/>
<circle cx="791.4" cy="460.93" r="2.15" fill="#000"/>
<line x1="816.8" y1="446.99" x2="816.8" y2="405.05" stroke="#0a0a0a" stroke-width="1.5"/>
<circle cx="816.8" cy="430.65" r="2.15" fill="#000"/>
</g>
<g clip-path="url(#c2r)">
<line x1="639" y1="543.64" x2="639" y2="492.11" stroke="#0a0a0a" stroke-width="1.5"/>
<circle cx="639" cy="521.92" r="2.15" fill="#000"/>
<line x1="664.4" y1="521.48" x2="664.4" y2="459.98" stroke="#0a0a0a" stroke-width="1.5"/>
<line x1="689.8" y1="553.43" x2="689.8" y2="498.28" stroke="#0a0a0a" stroke-width="1.5"/>
<circle cx="689.8" cy="531.01" r="2.15" fill="#000"/>
<line x1="715.2" y1="531.8" x2="715.2" y2="454.82" stroke="#0a0a0a" stroke-width="1.5"/>
<line x1="740.6" y1="561" x2="740.6" y2="486.04" stroke="#0a0a0a" stroke-width="1.5"/>
<circle cx="740.6" cy="532.73" r="2.15" fill="#000"/>
<line x1="766" y1="576.56" x2="766" y2="491.99" stroke="#0a0a0a" stroke-width="1.5"/>
<circle cx="766" cy="548.75" r="2.15" fill="#000"/>
<line x1="791.4" y1="586.72" x2="791.4" y2="494.93" stroke="#0a0a0a" stroke-width="1.5"/>
<circle cx="791.4" cy="562.44" r="2.15" fill="#000"/>
<line x1="816.8" y1="554.98" x2="816.8" y2="483.18" stroke="#0a0a0a" stroke-width="1.5"/>
<circle cx="816.8" cy="527" r="2.15" fill="#000"/>
</g>
<text x="573.9" y="473.2" font-size="12.6" text-anchor="end" fill="#1a1a1a">0</text>
<text x="573.9" y="458.06" font-size="12.6" text-anchor="end" fill="#1a1a1a">2</text>
<text x="573.9" y="442.92" font-size="12.6" text-anchor="end" fill="#1a1a1a">4</text>
<text x="573.9" y="427.78" font-size="12.6" text-anchor="end" fill="#1a1a1a">6</text>
<text x="573.9" y="412.64" font-size="12.6" text-anchor="end" fill="#1a1a1a">8</text>
<text x="573.9" y="397.5" font-size="12.6" text-anchor="end" fill="#1a1a1a">10</text>
<text x="573.9" y="382.36" font-size="12.6" text-anchor="end" fill="#1a1a1a">12</text>
<text x="573.9" y="367.22" font-size="12.6" text-anchor="end" fill="#1a1a1a">14</text>
<text x="573.9" y="352.08" font-size="12.6" text-anchor="end" fill="#1a1a1a">16</text>
<text x="573.9" y="336.94" font-size="12.6" text-anchor="end" fill="#1a1a1a">18</text>
<text x="573.9" y="321.8" font-size="12.6" text-anchor="end" fill="#1a1a1a">20</text>
<text x="573.9" y="306.66" font-size="12.6" text-anchor="end" fill="#1a1a1a">22</text>
<text x="573.9" y="291.52" font-size="12.6" text-anchor="end" fill="#1a1a1a">24</text>
<text x="575.5" y="480.6" font-size="12.6" text-anchor="middle" fill="#1a1a1a">10</text>
<text x="600.9" y="480.6" font-size="12.6" text-anchor="middle" fill="#1a1a1a">12</text>
<text x="626.3" y="480.6" font-size="12.6" text-anchor="middle" fill="#1a1a1a">14</text>
<text x="651.7" y="480.6" font-size="12.6" text-anchor="middle" fill="#1a1a1a">16</text>
<text x="677.1" y="480.6" font-size="12.6" text-anchor="middle" fill="#1a1a1a">18</text>
<text x="702.5" y="480.6" font-size="12.6" text-anchor="middle" fill="#1a1a1a">20</text>
<text x="727.9" y="480.6" font-size="12.6" text-anchor="middle" fill="#1a1a1a">22</text>
<text x="753.3" y="480.6" font-size="12.6" text-anchor="middle" fill="#1a1a1a">24</text>
<text x="778.7" y="480.6" font-size="12.6" text-anchor="middle" fill="#1a1a1a">26</text>
<text x="804.1" y="480.6" font-size="12.6" text-anchor="middle" fill="#1a1a1a">28</text>
<text x="829.5" y="480.6" font-size="12.6" text-anchor="middle" fill="#1a1a1a">30</text>
<text x="573.6" y="519.7" font-size="10.3" text-anchor="end" fill="#1a1a1a">1.5</text>
<text x="573.6" y="545.1" font-size="10.3" text-anchor="end" fill="#1a1a1a">1</text>
<text x="573.6" y="570.5" font-size="10.3" text-anchor="end" fill="#1a1a1a">0.5</text>
<text transform="translate(540.3,289.4) rotate(-90)" font-size="13.0" text-anchor="end" style="font-kerning:none" fill="#1a1a1a">Events / 2</text>
<text transform="translate(539.3,539.85) rotate(-90)" font-size="8.9" text-anchor="middle" style="font-kerning:none" fill="#1a1a1a">Data / SM</text>
<text x="829.2" y="499.8" font-size="13.0" text-anchor="end" fill="#1a1a1a" style="font-kerning:none">significance</text><text x="731.2" y="499.8" font-size="13.0" fill="#1a1a1a" style="font-kerning:none">H</text><text x="739.7" y="493.2" font-size="8.6" fill="#1a1a1a" style="font-kerning:none">miss</text><text x="740.8" y="504.2" font-size="8.6" fill="#1a1a1a" style="font-kerning:none">T</text>
<g class="lg" transform="translate(321.2,0)"><path d="M264.4 298.9l1.1 -0.6l1.4 4.3l1.6 -8.6h5.3" stroke="#1a1a1a" stroke-width="0.8" fill="none"/><text y="301.9" font-size="10.4" fill="#1a1a1a" style="font-kerning:none"><tspan x="268.6">s</tspan><tspan x="276.2">=</tspan><tspan x="285.5">13</tspan><tspan x="300.1">TeV,</tspan><tspan x="325.4">36.1</tspan><tspan x="348.1">fb</tspan><tspan x="356.9" font-size="6.8" dy="-4.6">-1</tspan></text><line x1="374.9" y1="300.5" x2="385.4" y2="300.5" stroke="#111" stroke-width="0.9"/><circle cx="380.1" cy="300.5" r="2.1" fill="#000"/><text x="388.6" y="303.2" font-size="9.6" fill="#1a1a1a">Data</text><rect x="427" y="296" width="11.6" height="8.8" fill="url(#hr)"/><line x1="427" y1="300.4" x2="438.6" y2="300.4" stroke="#ee6a6a" stroke-width="0.9"/><text x="441.0" y="303.2" font-size="9.7" fill="#1a1a1a" style="font-kerning:none;word-spacing:0.6px">Total SM</text><rect x="375.4" y="309.6" width="10.2" height="9.9" fill="#a5c6ec" stroke="#444" stroke-width="0.9"/><rect x="427.4" y="309.6" width="10.6" height="9.9" fill="#7fd95a" stroke="#444" stroke-width="0.9"/><text x="387.8" y="317" font-size="8.5" fill="#1a1a1a">tt 2L <tspan font-size="6.9" dx="0.6" fill="#444" stroke="none">× 0.96</tspan></text><line x1="390.3" y1="310" x2="392.6" y2="310" stroke="#1a1a1a" stroke-width="0.6"/><text x="440.6" y="317" font-size="8.4" fill="#1a1a1a">Single top <tspan font-size="6.9" dx="0.6" fill="#444" stroke="none">× 1.19</tspan></text><rect x="375.4" y="323.4" width="10.2" height="9.9" fill="#1f74da" stroke="#444" stroke-width="0.9"/><rect x="427.4" y="323.4" width="10.6" height="9.9" fill="#fbd84c" stroke="#444" stroke-width="0.9"/><text x="387.8" y="330.9" font-size="8.5" fill="#1a1a1a">tt 1L <tspan font-size="6.9" dx="0.6" fill="#444" stroke="none">× 1.05</tspan></text><line x1="390.3" y1="323.9" x2="392.6" y2="323.9" stroke="#1a1a1a" stroke-width="0.6"/><text x="440.6" y="330.9" font-size="8.4" fill="#1a1a1a">W+jets <tspan font-size="6.9" dx="0.6" fill="#444" stroke="none">× 0.85</tspan></text><rect x="375.4" y="337.3" width="10.2" height="9.9" fill="#3aa052" stroke="#444" stroke-width="0.9"/><rect x="427.4" y="337.3" width="10.6" height="9.9" fill="#e8625d" stroke="#444" stroke-width="0.9"/><text x="387.8" y="344.7" font-size="9.4" fill="#1a1a1a">Diboson</text><text x="440.6" y="344.7" font-size="8.5" fill="#1a1a1a">tt+V <tspan font-size="6.9" dx="0.6" fill="#444" stroke="none">× 1.13</tspan></text><line x1="443.1" y1="337.7" x2="445.4" y2="337.7" stroke="#1a1a1a" stroke-width="0.6"/></g>
<clipPath id="c3"><rect x="253.5" y="599.9" width="254" height="182.1"/></clipPath>
<clipPath id="c3r"><rect x="253.5" y="824.3" width="254" height="59.1"/></clipPath>
<g clip-path="url(#c3)">
<polygon points="253.5,728.85 278.9,728.85 278.9,732.06 304.3,732.06 304.3,741.25 329.7,741.25 329.7,749.05 355.1,749.05 355.1,748.62 380.5,748.62 380.5,754.6 405.9,754.6 405.9,764.83 431.3,764.83 431.3,766.57 456.7,766.57 456.7,771.34 482.1,771.34 482.1,753.39 507.5,753.39 507.5,782 482.1,782 482.1,782 456.7,782 456.7,782 431.3,782 431.3,782 405.9,782 405.9,782 380.5,782 380.5,782 355.1,782 355.1,782 329.7,782 329.7,782 304.3,782 304.3,782 278.9,782 278.9,782 253.5,782" fill="#a5c6ec"/>
<polygon points="253.5,747.93 278.9,747.93 278.9,746.63 304.3,746.63 304.3,753.82 329.7,753.82 329.7,759.63 355.1,759.63 355.1,759.46 380.5,759.46 380.5,765.87 405.9,765.87 405.9,770.47 431.3,770.47 431.3,772.46 456.7,772.46 456.7,775.41 482.1,775.41 482.1,762.93 507.5,762.93 507.5,782 482.1,782 482.1,782 456.7,782 456.7,782 431.3,782 431.3,782 405.9,782 405.9,782 380.5,782 380.5,782 355.1,782 355.1,782 329.7,782 329.7,782 304.3,782 304.3,782 278.9,782 278.9,782 253.5,782" fill="#1f74da"/>
<polygon points="253.5,748.36 278.9,748.36 278.9,746.63 304.3,746.63 304.3,753.82 329.7,753.82 329.7,759.63 355.1,759.63 355.1,759.46 380.5,759.46 380.5,765.87 405.9,765.87 405.9,770.47 431.3,770.47 431.3,772.46 456.7,772.46 456.7,775.41 482.1,775.41 482.1,763.27 507.5,763.27 507.5,782 482.1,782 482.1,782 456.7,782 456.7,782 431.3,782 431.3,782 405.9,782 405.9,782 380.5,782 380.5,782 355.1,782 355.1,782 329.7,782 329.7,782 304.3,782 304.3,782 278.9,782 278.9,782 253.5,782" fill="#7fd95a"/>
<polygon points="253.5,752.87 278.9,752.87 278.9,750.96 304.3,750.96 304.3,759.02 329.7,759.02 329.7,763.97 355.1,763.97 355.1,763.27 380.5,763.27 380.5,768.47 405.9,768.47 405.9,774.37 431.3,774.37 431.3,773.07 456.7,773.07 456.7,776.1 482.1,776.1 482.1,766.57 507.5,766.57 507.5,782 482.1,782 482.1,782 456.7,782 456.7,782 431.3,782 431.3,782 405.9,782 405.9,782 380.5,782 380.5,782 355.1,782 355.1,782 329.7,782 329.7,782 304.3,782 304.3,782 278.9,782 278.9,782 253.5,782" fill="#fbd84c"/>
<polygon points="253.5,760.06 278.9,760.06 278.9,755.47 304.3,755.47 304.3,762.67 329.7,762.67 329.7,768.47 355.1,768.47 355.1,768.13 380.5,768.13 380.5,770.47 405.9,770.47 405.9,775.41 431.3,775.41 431.3,774.37 456.7,774.37 456.7,776.28 482.1,776.28 482.1,771.08 507.5,771.08 507.5,782 482.1,782 482.1,782 456.7,782 456.7,782 431.3,782 431.3,782 405.9,782 405.9,782 380.5,782 380.5,782 355.1,782 355.1,782 329.7,782 329.7,782 304.3,782 304.3,782 278.9,782 278.9,782 253.5,782" fill="#3aa052"/>
<polygon points="253.5,760.67 278.9,760.67 278.9,758.07 304.3,758.07 304.3,765.61 329.7,765.61 329.7,770.82 355.1,770.82 355.1,768.73 380.5,768.73 380.5,771.77 405.9,771.77 405.9,775.67 431.3,775.67 431.3,778.27 456.7,778.27 456.7,778.62 482.1,778.62 482.1,773.07 507.5,773.07 507.5,782 482.1,782 482.1,782 456.7,782 456.7,782 431.3,782 431.3,782 405.9,782 405.9,782 380.5,782 380.5,782 355.1,782 355.1,782 329.7,782 329.7,782 304.3,782 304.3,782 278.9,782 278.9,782 253.5,782" fill="#e8625d"/>
<polyline points="253.5,782 253.5,760.67 278.9,760.67 278.9,758.07 304.3,758.07 304.3,765.61 329.7,765.61 329.7,770.82 355.1,770.82 355.1,768.73 380.5,768.73 380.5,771.77 405.9,771.77 405.9,775.67 431.3,775.67 431.3,778.27 456.7,778.27 456.7,778.62 482.1,778.62 482.1,773.07 507.5,773.07 507.5,782" fill="none" stroke="#16220f" stroke-width="1.1"/>
<polyline points="253.5,782 253.5,760.06 278.9,760.06 278.9,755.47 304.3,755.47 304.3,762.67 329.7,762.67 329.7,768.47 355.1,768.47 355.1,768.13 380.5,768.13 380.5,770.47 405.9,770.47 405.9,775.41 431.3,775.41 431.3,774.37 456.7,774.37 456.7,776.28 482.1,776.28 482.1,771.08 507.5,771.08 507.5,782" fill="none" stroke="#16220f" stroke-width="1.1"/>
<polyline points="253.5,782 253.5,752.87 278.9,752.87 278.9,750.96 304.3,750.96 304.3,759.02 329.7,759.02 329.7,763.97 355.1,763.97 355.1,763.27 380.5,763.27 380.5,768.47 405.9,768.47 405.9,774.37 431.3,774.37 431.3,773.07 456.7,773.07 456.7,776.1 482.1,776.1 482.1,766.57 507.5,766.57 507.5,782" fill="none" stroke="#16220f" stroke-width="1.1"/>
<polyline points="253.5,782 253.5,748.36 278.9,748.36 278.9,746.63 304.3,746.63 304.3,753.82 329.7,753.82 329.7,759.63 355.1,759.63 355.1,759.46 380.5,759.46 380.5,765.87 405.9,765.87 405.9,770.47 431.3,770.47 431.3,772.46 456.7,772.46 456.7,775.41 482.1,775.41 482.1,763.27 507.5,763.27 507.5,782" fill="none" stroke="#16220f" stroke-width="1.1"/>
<polyline points="253.5,782 253.5,728.85 278.9,728.85 278.9,732.06 304.3,732.06 304.3,741.25 329.7,741.25 329.7,749.05 355.1,749.05 355.1,748.62 380.5,748.62 380.5,754.6 405.9,754.6 405.9,764.83 431.3,764.83 431.3,766.57 456.7,766.57 456.7,771.34 482.1,771.34 482.1,753.39 507.5,753.39 507.5,782" fill="none" stroke="#16220f" stroke-width="0.5"/>
<polygon points="253.5,716.11 278.9,716.11 278.9,719.06 304.3,719.06 304.3,728.25 329.7,728.25 329.7,738.65 355.1,738.65 355.1,737.78 380.5,737.78 380.5,744.46 405.9,744.46 405.9,756.86 431.3,756.86 431.3,759.46 456.7,759.46 456.7,766.57 482.1,766.57 482.1,741.86 507.5,741.86 507.5,764.66 482.1,764.66 482.1,776.8 456.7,776.8 456.7,774.2 431.3,774.2 431.3,773.76 405.9,773.76 405.9,765.53 380.5,765.53 380.5,759.46 355.1,759.46 355.1,759.46 329.7,759.46 329.7,753.39 304.3,753.39 304.3,745.59 278.9,745.59 278.9,742.12 253.5,742.12" fill="url(#h)"/>
<polyline points="253.5,782 253.5,728.85 278.9,728.85 278.9,732.06 304.3,732.06 304.3,741.25 329.7,741.25 329.7,749.05 355.1,749.05 355.1,748.62 380.5,748.62 380.5,754.6 405.9,754.6 405.9,764.83 431.3,764.83 431.3,766.57 456.7,766.57 456.7,771.34 482.1,771.34 482.1,753.39 507.5,753.39 507.5,782" fill="none" stroke="#e8262a" stroke-width="1.15"/>
</g>
<g clip-path="url(#c3r)">
<rect x="253.5" y="842.21" width="25.4" height="24.38" fill="url(#h)"/>
<rect x="278.9" y="841.7" width="25.4" height="25.91" fill="url(#h)"/>
<rect x="304.3" y="839.67" width="25.4" height="29.46" fill="url(#h)"/>
<rect x="329.7" y="839.16" width="25.4" height="30.99" fill="url(#h)"/>
<rect x="355.1" y="838.14" width="25.4" height="32.51" fill="url(#h)"/>
<rect x="380.5" y="834.59" width="25.4" height="39.62" fill="url(#h)"/>
<rect x="405.9" y="831.54" width="25.4" height="46.74" fill="url(#h)"/>
<rect x="431.3" y="831.54" width="25.4" height="46.74" fill="url(#h)"/>
<rect x="456.7" y="832.56" width="25.4" height="44.2" fill="url(#h)"/>
<rect x="482.1" y="833.57" width="25.4" height="41.66" fill="url(#h)"/>
<line x1="253.5" y1="854.4" x2="507.5" y2="854.4" stroke="#e8262a" stroke-width="1.5"/>
</g>
<path d="M253.5 782L260.3 782M507.5 782L500.7 782M253.5 777.66L257.1 777.66M507.5 777.66L503.9 777.66M253.5 773.33L257.1 773.33M507.5 773.33L503.9 773.33M253.5 769L257.1 769M507.5 769L503.9 769M253.5 764.66L260.3 764.66M507.5 764.66L500.7 764.66M253.5 760.33L257.1 760.33M507.5 760.33L503.9 760.33M253.5 755.99L257.1 755.99M507.5 755.99L503.9 755.99M253.5 751.65L257.1 751.65M507.5 751.65L503.9 751.65M253.5 747.32L260.3 747.32M507.5 747.32L500.7 747.32M253.5 742.99L257.1 742.99M507.5 742.99L503.9 742.99M253.5 738.65L257.1 738.65M507.5 738.65L503.9 738.65M253.5 734.32L257.1 734.32M507.5 734.32L503.9 734.32M253.5 729.98L260.3 729.98M507.5 729.98L500.7 729.98M253.5 725.64L257.1 725.64M507.5 725.64L503.9 725.64M253.5 721.31L257.1 721.31M507.5 721.31L503.9 721.31M253.5 716.98L257.1 716.98M507.5 716.98L503.9 716.98M253.5 712.64L260.3 712.64M507.5 712.64L500.7 712.64M253.5 708.31L257.1 708.31M507.5 708.31L503.9 708.31M253.5 703.97L257.1 703.97M507.5 703.97L503.9 703.97M253.5 699.63L257.1 699.63M507.5 699.63L503.9 699.63M253.5 695.3L260.3 695.3M507.5 695.3L500.7 695.3M253.5 690.97L257.1 690.97M507.5 690.97L503.9 690.97M253.5 686.63L257.1 686.63M507.5 686.63L503.9 686.63M253.5 682.29L257.1 682.29M507.5 682.29L503.9 682.29M253.5 677.96L260.3 677.96M507.5 677.96L500.7 677.96M253.5 673.62L257.1 673.62M507.5 673.62L503.9 673.62M253.5 669.29L257.1 669.29M507.5 669.29L503.9 669.29M253.5 664.96L257.1 664.96M507.5 664.96L503.9 664.96M253.5 660.62L260.3 660.62M507.5 660.62L500.7 660.62M253.5 656.28L257.1 656.28M507.5 656.28L503.9 656.28M253.5 651.95L257.1 651.95M507.5 651.95L503.9 651.95M253.5 647.62L257.1 647.62M507.5 647.62L503.9 647.62M253.5 643.28L260.3 643.28M507.5 643.28L500.7 643.28M253.5 638.94L257.1 638.94M507.5 638.94L503.9 638.94M253.5 634.61L257.1 634.61M507.5 634.61L503.9 634.61M253.5 630.27L257.1 630.27M507.5 630.27L503.9 630.27M253.5 625.94L260.3 625.94M507.5 625.94L500.7 625.94M253.5 621.61L257.1 621.61M507.5 621.61L503.9 621.61M253.5 617.27L257.1 617.27M507.5 617.27L503.9 617.27M253.5 612.93L257.1 612.93M507.5 612.93L503.9 612.93M253.5 608.6L260.3 608.6M507.5 608.6L500.7 608.6M253.5 604.26L257.1 604.26M507.5 604.26L503.9 604.26M253.5 599.93L257.1 599.93M507.5 599.93L503.9 599.93M253.5 782L253.5 779.2M253.5 599.9L253.5 602.7M253.5 883.4L253.5 880.8M253.5 824.3L253.5 826.9M259.85 782L259.85 779.2M259.85 599.9L259.85 602.7M259.85 883.4L259.85 880.8M259.85 824.3L259.85 826.9M266.2 782L266.2 776.6M266.2 599.9L266.2 605.3M266.2 883.4L266.2 877.8M266.2 824.3L266.2 829.9M272.55 782L272.55 779.2M272.55 599.9L272.55 602.7M272.55 883.4L272.55 880.8M272.55 824.3L272.55 826.9M278.9 782L278.9 779.2M278.9 599.9L278.9 602.7M278.9 883.4L278.9 880.8M278.9 824.3L278.9 826.9M285.25 782L285.25 779.2M285.25 599.9L285.25 602.7M285.25 883.4L285.25 880.8M285.25 824.3L285.25 826.9M291.6 782L291.6 776.6M291.6 599.9L291.6 605.3M291.6 883.4L291.6 877.8M291.6 824.3L291.6 829.9M297.95 782L297.95 779.2M297.95 599.9L297.95 602.7M297.95 883.4L297.95 880.8M297.95 824.3L297.95 826.9M304.3 782L304.3 779.2M304.3 599.9L304.3 602.7M304.3 883.4L304.3 880.8M304.3 824.3L304.3 826.9M310.65 782L310.65 779.2M310.65 599.9L310.65 602.7M310.65 883.4L310.65 880.8M310.65 824.3L310.65 826.9M317 782L317 776.6M317 599.9L317 605.3M317 883.4L317 877.8M317 824.3L317 829.9M323.35 782L323.35 779.2M323.35 599.9L323.35 602.7M323.35 883.4L323.35 880.8M323.35 824.3L323.35 826.9M329.7 782L329.7 779.2M329.7 599.9L329.7 602.7M329.7 883.4L329.7 880.8M329.7 824.3L329.7 826.9M336.05 782L336.05 779.2M336.05 599.9L336.05 602.7M336.05 883.4L336.05 880.8M336.05 824.3L336.05 826.9M342.4 782L342.4 776.6M342.4 599.9L342.4 605.3M342.4 883.4L342.4 877.8M342.4 824.3L342.4 829.9M348.75 782L348.75 779.2M348.75 599.9L348.75 602.7M348.75 883.4L348.75 880.8M348.75 824.3L348.75 826.9M355.1 782L355.1 779.2M355.1 599.9L355.1 602.7M355.1 883.4L355.1 880.8M355.1 824.3L355.1 826.9M361.45 782L361.45 779.2M361.45 599.9L361.45 602.7M361.45 883.4L361.45 880.8M361.45 824.3L361.45 826.9M367.8 782L367.8 776.6M367.8 599.9L367.8 605.3M367.8 883.4L367.8 877.8M367.8 824.3L367.8 829.9M374.15 782L374.15 779.2M374.15 599.9L374.15 602.7M374.15 883.4L374.15 880.8M374.15 824.3L374.15 826.9M380.5 782L380.5 779.2M380.5 599.9L380.5 602.7M380.5 883.4L380.5 880.8M380.5 824.3L380.5 826.9M386.85 782L386.85 779.2M386.85 599.9L386.85 602.7M386.85 883.4L386.85 880.8M386.85 824.3L386.85 826.9M393.2 782L393.2 776.6M393.2 599.9L393.2 605.3M393.2 883.4L393.2 877.8M393.2 824.3L393.2 829.9M399.55 782L399.55 779.2M399.55 599.9L399.55 602.7M399.55 883.4L399.55 880.8M399.55 824.3L399.55 826.9M405.9 782L405.9 779.2M405.9 599.9L405.9 602.7M405.9 883.4L405.9 880.8M405.9 824.3L405.9 826.9M412.25 782L412.25 779.2M412.25 599.9L412.25 602.7M412.25 883.4L412.25 880.8M412.25 824.3L412.25 826.9M418.6 782L418.6 776.6M418.6 599.9L418.6 605.3M418.6 883.4L418.6 877.8M418.6 824.3L418.6 829.9M424.95 782L424.95 779.2M424.95 599.9L424.95 602.7M424.95 883.4L424.95 880.8M424.95 824.3L424.95 826.9M431.3 782L431.3 779.2M431.3 599.9L431.3 602.7M431.3 883.4L431.3 880.8M431.3 824.3L431.3 826.9M437.65 782L437.65 779.2M437.65 599.9L437.65 602.7M437.65 883.4L437.65 880.8M437.65 824.3L437.65 826.9M444 782L444 776.6M444 599.9L444 605.3M444 883.4L444 877.8M444 824.3L444 829.9M450.35 782L450.35 779.2M450.35 599.9L450.35 602.7M450.35 883.4L450.35 880.8M450.35 824.3L450.35 826.9M456.7 782L456.7 779.2M456.7 599.9L456.7 602.7M456.7 883.4L456.7 880.8M456.7 824.3L456.7 826.9M463.05 782L463.05 779.2M463.05 599.9L463.05 602.7M463.05 883.4L463.05 880.8M463.05 824.3L463.05 826.9M469.4 782L469.4 776.6M469.4 599.9L469.4 605.3M469.4 883.4L469.4 877.8M469.4 824.3L469.4 829.9M475.75 782L475.75 779.2M475.75 599.9L475.75 602.7M475.75 883.4L475.75 880.8M475.75 824.3L475.75 826.9M482.1 782L482.1 779.2M482.1 599.9L482.1 602.7M482.1 883.4L482.1 880.8M482.1 824.3L482.1 826.9M488.45 782L488.45 779.2M488.45 599.9L488.45 602.7M488.45 883.4L488.45 880.8M488.45 824.3L488.45 826.9M494.8 782L494.8 776.6M494.8 599.9L494.8 605.3M494.8 883.4L494.8 877.8M494.8 824.3L494.8 829.9M501.15 782L501.15 779.2M501.15 599.9L501.15 602.7M501.15 883.4L501.15 880.8M501.15 824.3L501.15 826.9M507.5 782L507.5 779.2M507.5 599.9L507.5 602.7M507.5 883.4L507.5 880.8M507.5 824.3L507.5 826.9M253.5 879.8L260.9 879.8M507.5 879.8L500.1 879.8M253.5 874.72L257.5 874.72M507.5 874.72L503.5 874.72M253.5 869.64L257.5 869.64M507.5 869.64L503.5 869.64M253.5 864.56L257.5 864.56M507.5 864.56L503.5 864.56M253.5 859.48L257.5 859.48M507.5 859.48L503.5 859.48M253.5 854.4L260.9 854.4M507.5 854.4L500.1 854.4M253.5 849.32L257.5 849.32M507.5 849.32L503.5 849.32M253.5 844.24L257.5 844.24M507.5 844.24L503.5 844.24M253.5 839.16L257.5 839.16M507.5 839.16L503.5 839.16M253.5 834.08L257.5 834.08M507.5 834.08L503.5 834.08M253.5 829L260.9 829M507.5 829L500.1 829" stroke="#333" stroke-width="0.8" fill="none"/>
<rect x="253.5" y="599.9" width="254" height="182.1" fill="none" stroke="#333" stroke-width="0.85"/>
<rect x="253.5" y="824.3" width="254" height="59.1" fill="none" stroke="#333" stroke-width="0.85"/>
<g clip-path="url(#c3)">
<line x1="266.2" y1="750.61" x2="266.2" y2="698.92" stroke="#3a3a3a" stroke-width="1.1"/>
<circle cx="266.2" cy="729.98" r="2.15" fill="#000"/>
<line x1="291.6" y1="714.95" x2="291.6" y2="648.34" stroke="#3a3a3a" stroke-width="1.1"/>
<circle cx="291.6" cy="686.63" r="2.15" fill="#000"/>
<line x1="317" y1="743.69" x2="317" y2="688.62" stroke="#3a3a3a" stroke-width="1.1"/>
<circle cx="317" cy="721.31" r="2.15" fill="#000"/>
<line x1="342.4" y1="763.91" x2="342.4" y2="719.91" stroke="#3a3a3a" stroke-width="1.1"/>
<circle cx="342.4" cy="747.32" r="2.15" fill="#000"/>
<line x1="367.8" y1="743.69" x2="367.8" y2="688.62" stroke="#3a3a3a" stroke-width="1.1"/>
<circle cx="367.8" cy="721.31" r="2.15" fill="#000"/>
<line x1="393.2" y1="750.61" x2="393.2" y2="698.92" stroke="#3a3a3a" stroke-width="1.1"/>
<circle cx="393.2" cy="729.98" r="2.15" fill="#000"/>
<line x1="418.6" y1="775.86" x2="418.6" y2="741.8" stroke="#3a3a3a" stroke-width="1.1"/>
<circle cx="418.6" cy="764.66" r="2.15" fill="#000"/>
<line x1="444" y1="775.86" x2="444" y2="741.8" stroke="#3a3a3a" stroke-width="1.1"/>
<circle cx="444" cy="764.66" r="2.15" fill="#000"/>
<line x1="469.4" y1="780.5" x2="469.4" y2="753.4" stroke="#3a3a3a" stroke-width="1.1"/>
<circle cx="469.4" cy="773.33" r="2.15" fill="#000"/>
<line x1="494.8" y1="763.91" x2="494.8" y2="719.91" stroke="#3a3a3a" stroke-width="1.1"/>
<circle cx="494.8" cy="747.32" r="2.15" fill="#000"/>
</g>
<g clip-path="url(#c3r)">
<line x1="266.2" y1="875.2" x2="266.2" y2="825.78" stroke="#2a2a2a" stroke-width="0.9"/>
<circle cx="266.2" cy="855.48" r="2.15" fill="#000"/>
<line x1="291.6" y1="836.99" x2="291.6" y2="769.24" stroke="#2a2a2a" stroke-width="0.9"/>
<line x1="317" y1="857.44" x2="317" y2="788.79" stroke="#2a2a2a" stroke-width="0.9"/>
<circle cx="317" cy="829.54" r="2.15" fill="#000"/>
<line x1="342.4" y1="877.31" x2="342.4" y2="809.46" stroke="#2a2a2a" stroke-width="0.9"/>
<circle cx="342.4" cy="851.73" r="2.15" fill="#000"/>
<line x1="367.8" y1="846.89" x2="367.8" y2="763.09" stroke="#2a2a2a" stroke-width="0.9"/>
<line x1="393.2" y1="847.01" x2="393.2" y2="751.14" stroke="#2a2a2a" stroke-width="0.9"/>
<line x1="418.6" y1="887.04" x2="418.6" y2="786.23" stroke="#2a2a2a" stroke-width="0.9"/>
<circle cx="418.6" cy="853.89" r="2.15" fill="#000"/>
<line x1="444" y1="884.99" x2="444" y2="772.86" stroke="#2a2a2a" stroke-width="0.9"/>
<circle cx="444" cy="848.12" r="2.15" fill="#000"/>
<line x1="469.4" y1="898.05" x2="469.4" y2="768.95" stroke="#2a2a2a" stroke-width="0.9"/>
<circle cx="469.4" cy="863.9" r="2.15" fill="#000"/>
<line x1="494.8" y1="873.09" x2="494.8" y2="794.95" stroke="#2a2a2a" stroke-width="0.9"/>
<circle cx="494.8" cy="843.62" r="2.15" fill="#000"/>
</g>
<text x="251.9" y="786.7" font-size="12.6" text-anchor="end" fill="#1a1a1a">0</text>
<text x="251.9" y="769.36" font-size="12.6" text-anchor="end" fill="#1a1a1a">2</text>
<text x="251.9" y="752.02" font-size="12.6" text-anchor="end" fill="#1a1a1a">4</text>
<text x="251.9" y="734.68" font-size="12.6" text-anchor="end" fill="#1a1a1a">6</text>
<text x="251.9" y="717.34" font-size="12.6" text-anchor="end" fill="#1a1a1a">8</text>
<text x="251.9" y="700" font-size="12.6" text-anchor="end" fill="#1a1a1a">10</text>
<text x="251.9" y="682.66" font-size="12.6" text-anchor="end" fill="#1a1a1a">12</text>
<text x="251.9" y="665.32" font-size="12.6" text-anchor="end" fill="#1a1a1a">14</text>
<text x="251.9" y="647.98" font-size="12.6" text-anchor="end" fill="#1a1a1a">16</text>
<text x="251.9" y="630.64" font-size="12.6" text-anchor="end" fill="#1a1a1a">18</text>
<text x="251.9" y="613.3" font-size="12.6" text-anchor="end" fill="#1a1a1a">20</text>
<text x="266.2" y="794.1" font-size="12.6" text-anchor="middle" fill="#1a1a1a">160</text>
<text x="291.6" y="794.1" font-size="12.6" text-anchor="middle" fill="#1a1a1a">180</text>
<text x="317" y="794.1" font-size="12.6" text-anchor="middle" fill="#1a1a1a">200</text>
<text x="342.4" y="794.1" font-size="12.6" text-anchor="middle" fill="#1a1a1a">220</text>
<text x="367.8" y="794.1" font-size="12.6" text-anchor="middle" fill="#1a1a1a">240</text>
<text x="393.2" y="794.1" font-size="12.6" text-anchor="middle" fill="#1a1a1a">260</text>
<text x="418.6" y="794.1" font-size="12.6" text-anchor="middle" fill="#1a1a1a">280</text>
<text x="444" y="794.1" font-size="12.6" text-anchor="middle" fill="#1a1a1a">300</text>
<text x="469.4" y="794.1" font-size="12.6" text-anchor="middle" fill="#1a1a1a">320</text>
<text x="494.8" y="794.1" font-size="12.6" text-anchor="middle" fill="#1a1a1a">340</text>
<text x="251.6" y="833.1" font-size="10.3" text-anchor="end" fill="#1a1a1a">1.5</text>
<text x="251.6" y="858.5" font-size="10.3" text-anchor="end" fill="#1a1a1a">1</text>
<text x="251.6" y="883.9" font-size="10.3" text-anchor="end" fill="#1a1a1a">0.5</text>
<text transform="translate(218.3,598.9) rotate(-90)" font-size="13.0" text-anchor="end" style="font-kerning:none" fill="#1a1a1a">Events / 20 GeV</text>
<text transform="translate(217.3,852.45) rotate(-90)" font-size="8.9" text-anchor="middle" style="font-kerning:none" fill="#1a1a1a">Data / SM</text>
<text x="508.6" y="811.5" font-size="13.0" text-anchor="end" fill="#1a1a1a" style="font-kerning:none">[GeV]</text><text x="417.3" y="811.5" font-size="13.0" fill="#1a1a1a" style="font-kerning:none">m</text><text x="427.8" y="806.6" font-size="8.6" fill="#1a1a1a" style="font-kerning:none">reclustered</text><text x="428.6" y="814.2" font-size="8.6" fill="#1a1a1a" style="font-kerning:none">top</text>
<g class="lg" transform="translate(0,313.1)"><path d="M264.4 298.9l1.1 -0.6l1.4 4.3l1.6 -8.6h5.3" stroke="#1a1a1a" stroke-width="0.8" fill="none"/><text y="301.9" font-size="10.4" fill="#1a1a1a" style="font-kerning:none"><tspan x="268.6">s</tspan><tspan x="276.2">=</tspan><tspan x="285.5">13</tspan><tspan x="300.1">TeV,</tspan><tspan x="325.4">36.1</tspan><tspan x="348.1">fb</tspan><tspan x="356.9" font-size="6.8" dy="-4.6">-1</tspan></text><line x1="374.9" y1="300.5" x2="385.4" y2="300.5" stroke="#111" stroke-width="0.9"/><circle cx="380.1" cy="300.5" r="2.1" fill="#000"/><text x="388.6" y="303.2" font-size="9.6" fill="#1a1a1a">Data</text><rect x="427" y="296" width="11.6" height="8.8" fill="url(#hr)"/><line x1="427" y1="300.4" x2="438.6" y2="300.4" stroke="#ee6a6a" stroke-width="0.9"/><text x="441.0" y="303.2" font-size="9.7" fill="#1a1a1a" style="font-kerning:none;word-spacing:0.6px">Total SM</text><rect x="375.4" y="309.6" width="10.2" height="9.9" fill="#a5c6ec" stroke="#444" stroke-width="0.9"/><rect x="427.4" y="309.6" width="10.6" height="9.9" fill="#7fd95a" stroke="#444" stroke-width="0.9"/><text x="387.8" y="317" font-size="8.5" fill="#1a1a1a">tt 2L <tspan font-size="6.9" dx="0.6" fill="#444" stroke="none">× 0.96</tspan></text><line x1="390.3" y1="310" x2="392.6" y2="310" stroke="#1a1a1a" stroke-width="0.6"/><text x="440.6" y="317" font-size="8.4" fill="#1a1a1a">Single top <tspan font-size="6.9" dx="0.6" fill="#444" stroke="none">× 1.19</tspan></text><rect x="375.4" y="323.4" width="10.2" height="9.9" fill="#1f74da" stroke="#444" stroke-width="0.9"/><rect x="427.4" y="323.4" width="10.6" height="9.9" fill="#fbd84c" stroke="#444" stroke-width="0.9"/><text x="387.8" y="330.9" font-size="8.5" fill="#1a1a1a">tt 1L <tspan font-size="6.9" dx="0.6" fill="#444" stroke="none">× 1.05</tspan></text><line x1="390.3" y1="323.9" x2="392.6" y2="323.9" stroke="#1a1a1a" stroke-width="0.6"/><text x="440.6" y="330.9" font-size="8.4" fill="#1a1a1a">W+jets <tspan font-size="6.9" dx="0.6" fill="#444" stroke="none">× 0.85</tspan></text><rect x="375.4" y="337.3" width="10.2" height="9.9" fill="#3aa052" stroke="#444" stroke-width="0.9"/><rect x="427.4" y="337.3" width="10.6" height="9.9" fill="#e8625d" stroke="#444" stroke-width="0.9"/><text x="387.8" y="344.7" font-size="9.4" fill="#1a1a1a">Diboson</text><text x="440.6" y="344.7" font-size="8.5" fill="#1a1a1a">tt+V <tspan font-size="6.9" dx="0.6" fill="#444" stroke="none">× 1.13</tspan></text><line x1="443.1" y1="337.7" x2="445.4" y2="337.7" stroke="#1a1a1a" stroke-width="0.6"/></g>
<clipPath id="c4"><rect x="575.5" y="600.2" width="254" height="181.8"/></clipPath>
<clipPath id="c4r"><rect x="575.5" y="824.3" width="254" height="59.1"/></clipPath>
<g clip-path="url(#c4)">
<polygon points="575.5,770.64 592.43,770.64 592.43,760.79 609.37,760.79 609.37,735.26 626.3,735.26 626.3,727.84 643.23,727.84 643.23,741.85 660.17,741.85 660.17,747.38 677.1,747.38 677.1,763.06 694.03,763.06 694.03,772.15 710.97,772.15 710.97,772.76 727.9,772.76 727.9,776.02 744.83,776.02 744.83,777.08 761.77,777.08 761.77,779.73 778.7,779.73 778.7,778.97 795.63,778.97 795.63,781.24 812.57,781.24 812.57,777.61 829.5,777.61 829.5,782 812.57,782 812.57,782 795.63,782 795.63,782 778.7,782 778.7,782 761.77,782 761.77,782 744.83,782 744.83,782 727.9,782 727.9,782 710.97,782 710.97,782 694.03,782 694.03,782 677.1,782 677.1,782 660.17,782 660.17,782 643.23,782 643.23,782 626.3,782 626.3,782 609.37,782 609.37,782 592.43,782 592.43,782 575.5,782" fill="#a5c6ec"/>
<polygon points="575.5,777.08 592.43,777.08 592.43,770.18 609.37,770.18 609.37,752.99 626.3,752.99 626.3,746.7 643.23,746.7 643.23,756.47 660.17,756.47 660.17,757.53 677.1,757.53 677.1,767.91 694.03,767.91 694.03,775.18 710.97,775.18 710.97,775.18 727.9,775.18 727.9,777.08 744.83,777.08 744.83,777.83 761.77,777.83 761.77,780.11 778.7,780.11 778.7,779.35 795.63,779.35 795.63,781.39 812.57,781.39 812.57,778.21 829.5,778.21 829.5,782 812.57,782 812.57,782 795.63,782 795.63,782 778.7,782 778.7,782 761.77,782 761.77,782 744.83,782 744.83,782 727.9,782 727.9,782 710.97,782 710.97,782 694.03,782 694.03,782 677.1,782 677.1,782 660.17,782 660.17,782 643.23,782 643.23,782 626.3,782 626.3,782 609.37,782 609.37,782 592.43,782 592.43,782 575.5,782" fill="#1f74da"/>
<polygon points="575.5,777.08 592.43,777.08 592.43,770.18 609.37,770.18 609.37,752.99 626.3,752.99 626.3,746.7 643.23,746.7 643.23,756.47 660.17,756.47 660.17,757.53 677.1,757.53 677.1,767.91 694.03,767.91 694.03,775.18 710.97,775.18 710.97,775.18 727.9,775.18 727.9,777.08 744.83,777.08 744.83,777.83 761.77,777.83 761.77,780.11 778.7,780.11 778.7,779.35 795.63,779.35 795.63,781.39 812.57,781.39 812.57,778.21 829.5,778.21 829.5,782 812.57,782 812.57,782 795.63,782 795.63,782 778.7,782 778.7,782 761.77,782 761.77,782 744.83,782 744.83,782 727.9,782 727.9,782 710.97,782 710.97,782 694.03,782 694.03,782 677.1,782 677.1,782 660.17,782 660.17,782 643.23,782 643.23,782 626.3,782 626.3,782 609.37,782 609.37,782 592.43,782 592.43,782 575.5,782" fill="#7fd95a"/>
<polygon points="575.5,778.97 592.43,778.97 592.43,773.29 609.37,773.29 609.37,758.52 626.3,758.52 626.3,752.31 643.23,752.31 643.23,759.12 660.17,759.12 660.17,760.41 677.1,760.41 677.1,769.27 694.03,769.27 694.03,775.94 710.97,775.94 710.97,776.02 727.9,776.02 727.9,777.61 744.83,777.61 744.83,778.36 761.77,778.36 761.77,780.33 778.7,780.33 778.7,779.58 795.63,779.58 795.63,781.47 812.57,781.47 812.57,778.44 829.5,778.44 829.5,782 812.57,782 812.57,782 795.63,782 795.63,782 778.7,782 778.7,782 761.77,782 761.77,782 744.83,782 744.83,782 727.9,782 727.9,782 710.97,782 710.97,782 694.03,782 694.03,782 677.1,782 677.1,782 660.17,782 660.17,782 643.23,782 643.23,782 626.3,782 626.3,782 609.37,782 609.37,782 592.43,782 592.43,782 575.5,782" fill="#fbd84c"/>
<polygon points="575.5,780.11 592.43,780.11 592.43,773.44 609.37,773.44 609.37,761.93 626.3,761.93 626.3,755.87 643.23,755.87 643.23,763.67 660.17,763.67 660.17,763.67 677.1,763.67 677.1,772 694.03,772 694.03,776.7 710.97,776.7 710.97,778.59 727.9,778.59 727.9,779.35 744.83,779.35 744.83,780.33 761.77,780.33 761.77,780.49 778.7,780.49 778.7,779.73 795.63,779.73 795.63,781.55 812.57,781.55 812.57,778.59 829.5,778.59 829.5,782 812.57,782 812.57,782 795.63,782 795.63,782 778.7,782 778.7,782 761.77,782 761.77,782 744.83,782 744.83,782 727.9,782 727.9,782 710.97,782 710.97,782 694.03,782 694.03,782 677.1,782 677.1,782 660.17,782 660.17,782 643.23,782 643.23,782 626.3,782 626.3,782 609.37,782 609.37,782 592.43,782 592.43,782 575.5,782" fill="#3aa052"/>
<polygon points="575.5,780.56 592.43,780.56 592.43,774.05 609.37,774.05 609.37,763.67 626.3,763.67 626.3,758.06 643.23,758.06 643.23,765.34 660.17,765.34 660.17,768.21 677.1,768.21 677.1,772.38 694.03,772.38 694.03,779.95 710.97,779.95 710.97,779.27 727.9,779.27 727.9,779.95 744.83,779.95 744.83,780.56 761.77,780.56 761.77,781.24 778.7,781.24 778.7,780.86 795.63,780.86 795.63,781.77 812.57,781.77 812.57,781.24 829.5,781.24 829.5,782 812.57,782 812.57,782 795.63,782 795.63,782 778.7,782 778.7,782 761.77,782 761.77,782 744.83,782 744.83,782 727.9,782 727.9,782 710.97,782 710.97,782 694.03,782 694.03,782 677.1,782 677.1,782 660.17,782 660.17,782 643.23,782 643.23,782 626.3,782 626.3,782 609.37,782 609.37,782 592.43,782 592.43,782 575.5,782" fill="#e8625d"/>
<polyline points="575.5,782 575.5,780.56 592.43,780.56 592.43,774.05 609.37,774.05 609.37,763.67 626.3,763.67 626.3,758.06 643.23,758.06 643.23,765.34 660.17,765.34 660.17,768.21 677.1,768.21 677.1,772.38 694.03,772.38 694.03,779.95 710.97,779.95 710.97,779.27 727.9,779.27 727.9,779.95 744.83,779.95 744.83,780.56 761.77,780.56 761.77,781.24 778.7,781.24 778.7,780.86 795.63,780.86 795.63,781.77 812.57,781.77 812.57,781.24 829.5,781.24 829.5,782" fill="none" stroke="#16220f" stroke-width="1.1"/>
<polyline points="575.5,782 575.5,780.11 592.43,780.11 592.43,773.44 609.37,773.44 609.37,761.93 626.3,761.93 626.3,755.87 643.23,755.87 643.23,763.67 660.17,763.67 660.17,763.67 677.1,763.67 677.1,772 694.03,772 694.03,776.7 710.97,776.7 710.97,778.59 727.9,778.59 727.9,779.35 744.83,779.35 744.83,780.33 761.77,780.33 761.77,780.49 778.7,780.49 778.7,779.73 795.63,779.73 795.63,781.55 812.57,781.55 812.57,778.59 829.5,778.59 829.5,782" fill="none" stroke="#16220f" stroke-width="1.1"/>
<polyline points="575.5,782 575.5,778.97 592.43,778.97 592.43,773.29 609.37,773.29 609.37,758.52 626.3,758.52 626.3,752.31 643.23,752.31 643.23,759.12 660.17,759.12 660.17,760.41 677.1,760.41 677.1,769.27 694.03,769.27 694.03,775.94 710.97,775.94 710.97,776.02 727.9,776.02 727.9,777.61 744.83,777.61 744.83,778.36 761.77,778.36 761.77,780.33 778.7,780.33 778.7,779.58 795.63,779.58 795.63,781.47 812.57,781.47 812.57,778.44 829.5,778.44 829.5,782" fill="none" stroke="#16220f" stroke-width="1.1"/>
<polyline points="575.5,782 575.5,777.08 592.43,777.08 592.43,770.18 609.37,770.18 609.37,752.99 626.3,752.99 626.3,746.7 643.23,746.7 643.23,756.47 660.17,756.47 660.17,757.53 677.1,757.53 677.1,767.91 694.03,767.91 694.03,775.18 710.97,775.18 710.97,775.18 727.9,775.18 727.9,777.08 744.83,777.08 744.83,777.83 761.77,777.83 761.77,780.11 778.7,780.11 778.7,779.35 795.63,779.35 795.63,781.39 812.57,781.39 812.57,778.21 829.5,778.21 829.5,782" fill="none" stroke="#16220f" stroke-width="1.1"/>
<polyline points="575.5,782 575.5,770.64 592.43,770.64 592.43,760.79 609.37,760.79 609.37,735.26 626.3,735.26 626.3,727.84 643.23,727.84 643.23,741.85 660.17,741.85 660.17,747.38 677.1,747.38 677.1,763.06 694.03,763.06 694.03,772.15 710.97,772.15 710.97,772.76 727.9,772.76 727.9,776.02 744.83,776.02 744.83,777.08 761.77,777.08 761.77,779.73 778.7,779.73 778.7,778.97 795.63,778.97 795.63,781.24 812.57,781.24 812.57,777.61 829.5,777.61 829.5,782" fill="none" stroke="#16220f" stroke-width="0.5"/>
<polygon points="575.5,764.96 592.43,764.96 592.43,750.94 609.37,750.94 609.37,720.64 626.3,720.64 626.3,716.1 643.23,716.1 643.23,732 660.17,732 660.17,738.29 677.1,738.29 677.1,757.15 694.03,757.15 694.03,768.37 710.97,768.37 710.97,768.21 727.9,768.21 727.9,773.44 744.83,773.44 744.83,774.73 761.77,774.73 761.77,778.21 778.7,778.21 778.7,777.46 795.63,777.46 795.63,780.49 812.57,780.49 812.57,775.18 829.5,775.18 829.5,779.73 812.57,779.73 812.57,782 795.63,782 795.63,780.49 778.7,780.49 778.7,781.24 761.77,781.24 761.77,779.73 744.83,779.73 744.83,778.59 727.9,778.59 727.9,776.7 710.97,776.7 710.97,775.94 694.03,775.94 694.03,768.37 677.1,768.37 677.1,756.25 660.17,756.25 660.17,751.7 643.23,751.7 643.23,740.34 626.3,740.34 626.3,751.32 609.37,751.32 609.37,769.88 592.43,769.88 592.43,776.7 575.5,776.7" fill="url(#h)"/>
<polyline points="575.5,782 575.5,770.64 592.43,770.64 592.43,760.79 609.37,760.79 609.37,735.26 626.3,735.26 626.3,727.84 643.23,727.84 643.23,741.85 660.17,741.85 660.17,747.38 677.1,747.38 677.1,763.06 694.03,763.06 694.03,772.15 710.97,772.15 710.97,772.76 727.9,772.76 727.9,776.02 744.83,776.02 744.83,777.08 761.77,777.08 761.77,779.73 778.7,779.73 778.7,778.97 795.63,778.97 795.63,781.24 812.57,781.24 812.57,777.61 829.5,777.61 829.5,782" fill="none" stroke="#e8262a" stroke-width="1.15"/>
</g>
<g clip-path="url(#c4r)">
<rect x="575.5" y="818.84" width="16.93" height="71.12" fill="url(#h)"/>
<rect x="592.43" y="833.06" width="16.93" height="41.66" fill="url(#h)"/>
<rect x="609.37" y="837.64" width="16.93" height="32.51" fill="url(#h)"/>
<rect x="626.3" y="844.24" width="16.93" height="20.32" fill="url(#h)"/>
<rect x="643.23" y="842.21" width="16.93" height="23.37" fill="url(#h)"/>
<rect x="660.17" y="839.67" width="16.93" height="27.94" fill="url(#h)"/>
<rect x="677.1" y="841.19" width="16.93" height="26.42" fill="url(#h)"/>
<rect x="694.03" y="834.08" width="16.93" height="40.64" fill="url(#h)"/>
<rect x="710.97" y="835.6" width="16.93" height="37.59" fill="url(#h)"/>
<rect x="727.9" y="834.08" width="16.93" height="40.64" fill="url(#h)"/>
<rect x="744.83" y="830.02" width="16.93" height="48.26" fill="url(#h)"/>
<rect x="761.77" y="831.54" width="16.93" height="46.23" fill="url(#h)"/>
<rect x="778.7" y="834.08" width="16.93" height="40.64" fill="url(#h)"/>
<rect x="795.63" y="818.84" width="16.93" height="71.12" fill="url(#h)"/>
<rect x="812.57" y="829" width="16.93" height="45.72" fill="url(#h)"/>
<line x1="575.5" y1="854.4" x2="829.5" y2="854.4" stroke="#e8262a" stroke-width="1.5"/>
</g>
<path d="M575.5 782L582.3 782M829.5 782L822.7 782M575.5 778.21L579.1 778.21M829.5 778.21L825.9 778.21M575.5 774.42L579.1 774.42M829.5 774.42L825.9 774.42M575.5 770.64L579.1 770.64M829.5 770.64L825.9 770.64M575.5 766.85L582.3 766.85M829.5 766.85L822.7 766.85M575.5 763.06L579.1 763.06M829.5 763.06L825.9 763.06M575.5 759.27L579.1 759.27M829.5 759.27L825.9 759.27M575.5 755.49L579.1 755.49M829.5 755.49L825.9 755.49M575.5 751.7L582.3 751.7M829.5 751.7L822.7 751.7M575.5 747.91L579.1 747.91M829.5 747.91L825.9 747.91M575.5 744.12L579.1 744.12M829.5 744.12L825.9 744.12M575.5 740.34L579.1 740.34M829.5 740.34L825.9 740.34M575.5 736.55L582.3 736.55M829.5 736.55L822.7 736.55M575.5 732.76L579.1 732.76M829.5 732.76L825.9 732.76M575.5 728.98L579.1 728.98M829.5 728.98L825.9 728.98M575.5 725.19L579.1 725.19M829.5 725.19L825.9 725.19M575.5 721.4L582.3 721.4M829.5 721.4L822.7 721.4M575.5 717.61L579.1 717.61M829.5 717.61L825.9 717.61M575.5 713.83L579.1 713.83M829.5 713.83L825.9 713.83M575.5 710.04L579.1 710.04M829.5 710.04L825.9 710.04M575.5 706.25L582.3 706.25M829.5 706.25L822.7 706.25M575.5 702.46L579.1 702.46M829.5 702.46L825.9 702.46M575.5 698.67L579.1 698.67M829.5 698.67L825.9 698.67M575.5 694.89L579.1 694.89M829.5 694.89L825.9 694.89M575.5 691.1L582.3 691.1M829.5 691.1L822.7 691.1M575.5 687.31L579.1 687.31M829.5 687.31L825.9 687.31M575.5 683.52L579.1 683.52M829.5 683.52L825.9 683.52M575.5 679.74L579.1 679.74M829.5 679.74L825.9 679.74M575.5 675.95L582.3 675.95M829.5 675.95L822.7 675.95M575.5 672.16L579.1 672.16M829.5 672.16L825.9 672.16M575.5 668.38L579.1 668.38M829.5 668.38L825.9 668.38M575.5 664.59L579.1 664.59M829.5 664.59L825.9 664.59M575.5 660.8L582.3 660.8M829.5 660.8L822.7 660.8M575.5 657.01L579.1 657.01M829.5 657.01L825.9 657.01M575.5 653.23L579.1 653.23M829.5 653.23L825.9 653.23M575.5 649.44L579.1 649.44M829.5 649.44L825.9 649.44M575.5 645.65L582.3 645.65M829.5 645.65L822.7 645.65M575.5 641.86L579.1 641.86M829.5 641.86L825.9 641.86M575.5 638.08L579.1 638.08M829.5 638.08L825.9 638.08M575.5 634.29L579.1 634.29M829.5 634.29L825.9 634.29M575.5 630.5L582.3 630.5M829.5 630.5L822.7 630.5M575.5 626.71L579.1 626.71M829.5 626.71L825.9 626.71M575.5 622.92L579.1 622.92M829.5 622.92L825.9 622.92M575.5 619.14L579.1 619.14M829.5 619.14L825.9 619.14M575.5 615.35L582.3 615.35M829.5 615.35L822.7 615.35M575.5 611.56L579.1 611.56M829.5 611.56L825.9 611.56M575.5 607.77L579.1 607.77M829.5 607.77L825.9 607.77M575.5 603.99L579.1 603.99M829.5 603.99L825.9 603.99M575.5 600.2L582.3 600.2M829.5 600.2L822.7 600.2M575.5 782L575.5 776.6M575.5 600.2L575.5 605.6M575.5 883.4L575.5 877.8M575.5 824.3L575.5 829.9M581.14 782L581.14 779.2M581.14 600.2L581.14 603M581.14 883.4L581.14 880.8M581.14 824.3L581.14 826.9M586.79 782L586.79 779.2M586.79 600.2L586.79 603M586.79 883.4L586.79 880.8M586.79 824.3L586.79 826.9M592.43 782L592.43 779.2M592.43 600.2L592.43 603M592.43 883.4L592.43 880.8M592.43 824.3L592.43 826.9M598.08 782L598.08 779.2M598.08 600.2L598.08 603M598.08 883.4L598.08 880.8M598.08 824.3L598.08 826.9M603.72 782L603.72 776.6M603.72 600.2L603.72 605.6M603.72 883.4L603.72 877.8M603.72 824.3L603.72 829.9M609.37 782L609.37 779.2M609.37 600.2L609.37 603M609.37 883.4L609.37 880.8M609.37 824.3L609.37 826.9M615.01 782L615.01 779.2M615.01 600.2L615.01 603M615.01 883.4L615.01 880.8M615.01 824.3L615.01 826.9M620.66 782L620.66 779.2M620.66 600.2L620.66 603M620.66 883.4L620.66 880.8M620.66 824.3L620.66 826.9M626.3 782L626.3 779.2M626.3 600.2L626.3 603M626.3 883.4L626.3 880.8M626.3 824.3L626.3 826.9M631.94 782L631.94 776.6M631.94 600.2L631.94 605.6M631.94 883.4L631.94 877.8M631.94 824.3L631.94 829.9M637.59 782L637.59 779.2M637.59 600.2L637.59 603M637.59 883.4L637.59 880.8M637.59 824.3L637.59 826.9M643.23 782L643.23 779.2M643.23 600.2L643.23 603M643.23 883.4L643.23 880.8M643.23 824.3L643.23 826.9M648.88 782L648.88 779.2M648.88 600.2L648.88 603M648.88 883.4L648.88 880.8M648.88 824.3L648.88 826.9M654.52 782L654.52 779.2M654.52 600.2L654.52 603M654.52 883.4L654.52 880.8M654.52 824.3L654.52 826.9M660.17 782L660.17 776.6M660.17 600.2L660.17 605.6M660.17 883.4L660.17 877.8M660.17 824.3L660.17 829.9M665.81 782L665.81 779.2M665.81 600.2L665.81 603M665.81 883.4L665.81 880.8M665.81 824.3L665.81 826.9M671.46 782L671.46 779.2M671.46 600.2L671.46 603M671.46 883.4L671.46 880.8M671.46 824.3L671.46 826.9M677.1 782L677.1 779.2M677.1 600.2L677.1 603M677.1 883.4L677.1 880.8M677.1 824.3L677.1 826.9M682.74 782L682.74 779.2M682.74 600.2L682.74 603M682.74 883.4L682.74 880.8M682.74 824.3L682.74 826.9M688.39 782L688.39 776.6M688.39 600.2L688.39 605.6M688.39 883.4L688.39 877.8M688.39 824.3L688.39 829.9M694.03 782L694.03 779.2M694.03 600.2L694.03 603M694.03 883.4L694.03 880.8M694.03 824.3L694.03 826.9M699.68 782L699.68 779.2M699.68 600.2L699.68 603M699.68 883.4L699.68 880.8M699.68 824.3L699.68 826.9M705.32 782L705.32 779.2M705.32 600.2L705.32 603M705.32 883.4L705.32 880.8M705.32 824.3L705.32 826.9M710.97 782L710.97 779.2M710.97 600.2L710.97 603M710.97 883.4L710.97 880.8M710.97 824.3L710.97 826.9M716.61 782L716.61 776.6M716.61 600.2L716.61 605.6M716.61 883.4L716.61 877.8M716.61 824.3L716.61 829.9M722.26 782L722.26 779.2M722.26 600.2L722.26 603M722.26 883.4L722.26 880.8M722.26 824.3L722.26 826.9M727.9 782L727.9 779.2M727.9 600.2L727.9 603M727.9 883.4L727.9 880.8M727.9 824.3L727.9 826.9M733.54 782L733.54 779.2M733.54 600.2L733.54 603M733.54 883.4L733.54 880.8M733.54 824.3L733.54 826.9M739.19 782L739.19 779.2M739.19 600.2L739.19 603M739.19 883.4L739.19 880.8M739.19 824.3L739.19 826.9M744.83 782L744.83 776.6M744.83 600.2L744.83 605.6M744.83 883.4L744.83 877.8M744.83 824.3L744.83 829.9M750.48 782L750.48 779.2M750.48 600.2L750.48 603M750.48 883.4L750.48 880.8M750.48 824.3L750.48 826.9M756.12 782L756.12 779.2M756.12 600.2L756.12 603M756.12 883.4L756.12 880.8M756.12 824.3L756.12 826.9M761.77 782L761.77 779.2M761.77 600.2L761.77 603M761.77 883.4L761.77 880.8M761.77 824.3L761.77 826.9M767.41 782L767.41 779.2M767.41 600.2L767.41 603M767.41 883.4L767.41 880.8M767.41 824.3L767.41 826.9M773.06 782L773.06 776.6M773.06 600.2L773.06 605.6M773.06 883.4L773.06 877.8M773.06 824.3L773.06 829.9M778.7 782L778.7 779.2M778.7 600.2L778.7 603M778.7 883.4L778.7 880.8M778.7 824.3L778.7 826.9M784.34 782L784.34 779.2M784.34 600.2L784.34 603M784.34 883.4L784.34 880.8M784.34 824.3L784.34 826.9M789.99 782L789.99 779.2M789.99 600.2L789.99 603M789.99 883.4L789.99 880.8M789.99 824.3L789.99 826.9M795.63 782L795.63 779.2M795.63 600.2L795.63 603M795.63 883.4L795.63 880.8M795.63 824.3L795.63 826.9M801.28 782L801.28 776.6M801.28 600.2L801.28 605.6M801.28 883.4L801.28 877.8M801.28 824.3L801.28 829.9M806.92 782L806.92 779.2M806.92 600.2L806.92 603M806.92 883.4L806.92 880.8M806.92 824.3L806.92 826.9M812.57 782L812.57 779.2M812.57 600.2L812.57 603M812.57 883.4L812.57 880.8M812.57 824.3L812.57 826.9M818.21 782L818.21 779.2M818.21 600.2L818.21 603M818.21 883.4L818.21 880.8M818.21 824.3L818.21 826.9M823.86 782L823.86 779.2M823.86 600.2L823.86 603M823.86 883.4L823.86 880.8M823.86 824.3L823.86 826.9M829.5 782L829.5 776.6M829.5 600.2L829.5 605.6M829.5 883.4L829.5 877.8M829.5 824.3L829.5 829.9M575.5 879.8L582.9 879.8M829.5 879.8L822.1 879.8M575.5 874.72L579.5 874.72M829.5 874.72L825.5 874.72M575.5 869.64L579.5 869.64M829.5 869.64L825.5 869.64M575.5 864.56L579.5 864.56M829.5 864.56L825.5 864.56M575.5 859.48L579.5 859.48M829.5 859.48L825.5 859.48M575.5 854.4L582.9 854.4M829.5 854.4L822.1 854.4M575.5 849.32L579.5 849.32M829.5 849.32L825.5 849.32M575.5 844.24L579.5 844.24M829.5 844.24L825.5 844.24M575.5 839.16L579.5 839.16M829.5 839.16L825.5 839.16M575.5 834.08L579.5 834.08M829.5 834.08L825.5 834.08M575.5 829L582.9 829M829.5 829L822.1 829" stroke="#333" stroke-width="0.8" fill="none"/>
<rect x="575.5" y="600.2" width="254" height="181.8" fill="none" stroke="#333" stroke-width="0.85"/>
<rect x="575.5" y="824.3" width="254" height="59.1" fill="none" stroke="#333" stroke-width="0.85"/>
<g clip-path="url(#c4)">
<line x1="583.97" y1="776.64" x2="583.97" y2="746.87" stroke="#0a0a0a" stroke-width="1.5"/>
<circle cx="583.97" cy="766.85" r="2.15" fill="#000"/>
<line x1="600.9" y1="771.64" x2="600.9" y2="737.17" stroke="#0a0a0a" stroke-width="1.5"/>
<circle cx="600.9" cy="759.27" r="2.15" fill="#000"/>
<line x1="617.83" y1="710.48" x2="617.83" y2="647.95" stroke="#0a0a0a" stroke-width="1.5"/>
<circle cx="617.83" cy="683.52" r="2.15" fill="#000"/>
<line x1="634.77" y1="723.41" x2="634.77" y2="665.22" stroke="#0a0a0a" stroke-width="1.5"/>
<circle cx="634.77" cy="698.67" r="2.15" fill="#000"/>
<line x1="651.7" y1="754.58" x2="651.7" y2="709.41" stroke="#0a0a0a" stroke-width="1.5"/>
<circle cx="651.7" cy="736.55" r="2.15" fill="#000"/>
<line x1="668.63" y1="766.2" x2="668.63" y2="727.75" stroke="#0a0a0a" stroke-width="1.5"/>
<circle cx="668.63" cy="751.7" r="2.15" fill="#000"/>
<line x1="685.57" y1="766.2" x2="685.57" y2="727.75" stroke="#0a0a0a" stroke-width="1.5"/>
<circle cx="685.57" cy="751.7" r="2.15" fill="#000"/>
<line x1="702.5" y1="776.64" x2="702.5" y2="746.87" stroke="#0a0a0a" stroke-width="1.5"/>
<circle cx="702.5" cy="766.85" r="2.15" fill="#000"/>
<line x1="736.37" y1="780.69" x2="736.37" y2="757.01" stroke="#0a0a0a" stroke-width="1.5"/>
<circle cx="736.37" cy="774.42" r="2.15" fill="#000"/>
<line x1="770.23" y1="771.64" x2="770.23" y2="737.17" stroke="#0a0a0a" stroke-width="1.5"/>
<circle cx="770.23" cy="759.27" r="2.15" fill="#000"/>
<line x1="821.03" y1="780.69" x2="821.03" y2="757.01" stroke="#0a0a0a" stroke-width="1.5"/>
<circle cx="821.03" cy="774.42" r="2.15" fill="#000"/>
</g>
<g clip-path="url(#c4r)">
<line x1="583.97" y1="881.85" x2="583.97" y2="752.24" stroke="#0a0a0a" stroke-width="1.5"/>
<circle cx="583.97" cy="839.23" r="2.15" fill="#000"/>
<line x1="600.9" y1="881.25" x2="600.9" y2="801.53" stroke="#0a0a0a" stroke-width="1.5"/>
<circle cx="600.9" cy="852.65" r="2.15" fill="#000"/>
<line x1="634.77" y1="850.63" x2="634.77" y2="796.43" stroke="#0a0a0a" stroke-width="1.5"/>
<circle cx="634.77" cy="827.59" r="2.15" fill="#000"/>
<line x1="651.7" y1="871.15" x2="651.7" y2="815.05" stroke="#0a0a0a" stroke-width="1.5"/>
<circle cx="651.7" cy="848.76" r="2.15" fill="#000"/>
<line x1="668.63" y1="882.16" x2="668.63" y2="826.11" stroke="#0a0a0a" stroke-width="1.5"/>
<circle cx="668.63" cy="861.03" r="2.15" fill="#000"/>
<line x1="685.57" y1="863.32" x2="685.57" y2="761.39" stroke="#0a0a0a" stroke-width="1.5"/>
<circle cx="685.57" cy="824.88" r="2.15" fill="#000"/>
<line x1="702.5" y1="879.32" x2="702.5" y2="735.73" stroke="#0a0a0a" stroke-width="1.5"/>
<circle cx="702.5" cy="832.11" r="2.15" fill="#000"/>
<line x1="736.37" y1="894.98" x2="736.37" y2="710.33" stroke="#0a0a0a" stroke-width="1.5"/>
<circle cx="736.37" cy="846.13" r="2.15" fill="#000"/>
<line x1="821.03" y1="890.05" x2="821.03" y2="616.25" stroke="#0a0a0a" stroke-width="1.5"/>
</g>
<path d="M617.83 833.9V825.3" stroke="#1a12d0" stroke-width="1.6" fill="none"/>
<path d="M617.83 822.3L615.03 827.6L620.63 827.6Z" fill="#1a12d0"/>
<path d="M770.23 833.9V825.3" stroke="#1a12d0" stroke-width="1.6" fill="none"/>
<path d="M770.23 822.3L767.43 827.6L773.03 827.6Z" fill="#1a12d0"/>
<text x="573.9" y="786.7" font-size="12.6" text-anchor="end" fill="#1a1a1a">0</text>
<text x="573.9" y="771.55" font-size="12.6" text-anchor="end" fill="#1a1a1a">2</text>
<text x="573.9" y="756.4" font-size="12.6" text-anchor="end" fill="#1a1a1a">4</text>
<text x="573.9" y="741.25" font-size="12.6" text-anchor="end" fill="#1a1a1a">6</text>
<text x="573.9" y="726.1" font-size="12.6" text-anchor="end" fill="#1a1a1a">8</text>
<text x="573.9" y="710.95" font-size="12.6" text-anchor="end" fill="#1a1a1a">10</text>
<text x="573.9" y="695.8" font-size="12.6" text-anchor="end" fill="#1a1a1a">12</text>
<text x="573.9" y="680.65" font-size="12.6" text-anchor="end" fill="#1a1a1a">14</text>
<text x="573.9" y="665.5" font-size="12.6" text-anchor="end" fill="#1a1a1a">16</text>
<text x="573.9" y="650.35" font-size="12.6" text-anchor="end" fill="#1a1a1a">18</text>
<text x="573.9" y="635.2" font-size="12.6" text-anchor="end" fill="#1a1a1a">20</text>
<text x="573.9" y="620.05" font-size="12.6" text-anchor="end" fill="#1a1a1a">22</text>
<text x="573.9" y="604.9" font-size="12.6" text-anchor="end" fill="#1a1a1a">24</text>
<text x="575.5" y="794.1" font-size="12.6" text-anchor="middle" fill="#1a1a1a">100</text>
<text x="603.72" y="794.1" font-size="12.6" text-anchor="middle" fill="#1a1a1a">200</text>
<text x="631.94" y="794.1" font-size="12.6" text-anchor="middle" fill="#1a1a1a">300</text>
<text x="660.17" y="794.1" font-size="12.6" text-anchor="middle" fill="#1a1a1a">400</text>
<text x="688.39" y="794.1" font-size="12.6" text-anchor="middle" fill="#1a1a1a">500</text>
<text x="716.61" y="794.1" font-size="12.6" text-anchor="middle" fill="#1a1a1a">600</text>
<text x="744.83" y="794.1" font-size="12.6" text-anchor="middle" fill="#1a1a1a">700</text>
<text x="773.06" y="794.1" font-size="12.6" text-anchor="middle" fill="#1a1a1a">800</text>
<text x="801.28" y="794.1" font-size="12.6" text-anchor="middle" fill="#1a1a1a">900</text>
<text x="829.5" y="794.1" font-size="12.6" text-anchor="middle" fill="#1a1a1a">1000</text>
<text x="573.6" y="833.1" font-size="10.3" text-anchor="end" fill="#1a1a1a">1.5</text>
<text x="573.6" y="858.5" font-size="10.3" text-anchor="end" fill="#1a1a1a">1</text>
<text x="573.6" y="883.9" font-size="10.3" text-anchor="end" fill="#1a1a1a">0.5</text>
<text transform="translate(540.3,598.9) rotate(-90)" font-size="13.0" text-anchor="end" style="font-kerning:none" fill="#1a1a1a">Events / 60 GeV</text>
<text transform="translate(539.3,852.45) rotate(-90)" font-size="8.9" text-anchor="middle" style="font-kerning:none" fill="#1a1a1a">Data / SM</text>
<text x="829.8" y="810.7" font-size="13.0" text-anchor="end" fill="#1a1a1a" style="font-kerning:none">[GeV]</text><text x="695.6" y="810.7" font-size="13.0" fill="#1a1a1a" style="font-kerning:none">reclustered jet p</text><text x="787.7" y="816.2" font-size="8.6" fill="#1a1a1a" style="font-kerning:none">T</text>
<g class="lg" transform="translate(321.2,313.4)"><path d="M264.4 298.9l1.1 -0.6l1.4 4.3l1.6 -8.6h5.3" stroke="#1a1a1a" stroke-width="0.8" fill="none"/><text y="301.9" font-size="10.4" fill="#1a1a1a" style="font-kerning:none"><tspan x="268.6">s</tspan><tspan x="276.2">=</tspan><tspan x="285.5">13</tspan><tspan x="300.1">TeV,</tspan><tspan x="325.4">36.1</tspan><tspan x="348.1">fb</tspan><tspan x="356.9" font-size="6.8" dy="-4.6">-1</tspan></text><line x1="374.9" y1="300.5" x2="385.4" y2="300.5" stroke="#111" stroke-width="0.9"/><circle cx="380.1" cy="300.5" r="2.1" fill="#000"/><text x="388.6" y="303.2" font-size="9.6" fill="#1a1a1a">Data</text><rect x="427" y="296" width="11.6" height="8.8" fill="url(#hr)"/><line x1="427" y1="300.4" x2="438.6" y2="300.4" stroke="#ee6a6a" stroke-width="0.9"/><text x="441.0" y="303.2" font-size="9.7" fill="#1a1a1a" style="font-kerning:none;word-spacing:0.6px">Total SM</text><rect x="375.4" y="309.6" width="10.2" height="9.9" fill="#a5c6ec" stroke="#444" stroke-width="0.9"/><rect x="427.4" y="309.6" width="10.6" height="9.9" fill="#7fd95a" stroke="#444" stroke-width="0.9"/><text x="387.8" y="317" font-size="8.5" fill="#1a1a1a">tt 2L <tspan font-size="6.9" dx="0.6" fill="#444" stroke="none">× 0.96</tspan></text><line x1="390.3" y1="310" x2="392.6" y2="310" stroke="#1a1a1a" stroke-width="0.6"/><text x="440.6" y="317" font-size="8.4" fill="#1a1a1a">Single top <tspan font-size="6.9" dx="0.6" fill="#444" stroke="none">× 1.19</tspan></text><rect x="375.4" y="323.4" width="10.2" height="9.9" fill="#1f74da" stroke="#444" stroke-width="0.9"/><rect x="427.4" y="323.4" width="10.6" height="9.9" fill="#fbd84c" stroke="#444" stroke-width="0.9"/><text x="387.8" y="330.9" font-size="8.5" fill="#1a1a1a">tt 1L <tspan font-size="6.9" dx="0.6" fill="#444" stroke="none">× 1.05</tspan></text><line x1="390.3" y1="323.9" x2="392.6" y2="323.9" stroke="#1a1a1a" stroke-width="0.6"/><text x="440.6" y="330.9" font-size="8.4" fill="#1a1a1a">W+jets <tspan font-size="6.9" dx="0.6" fill="#444" stroke="none">× 0.85</tspan></text><rect x="375.4" y="337.3" width="10.2" height="9.9" fill="#3aa052" stroke="#444" stroke-width="0.9"/><rect x="427.4" y="337.3" width="10.6" height="9.9" fill="#e8625d" stroke="#444" stroke-width="0.9"/><text x="387.8" y="344.7" font-size="9.4" fill="#1a1a1a">Diboson</text><text x="440.6" y="344.7" font-size="8.5" fill="#1a1a1a">tt+V <tspan font-size="6.9" dx="0.6" fill="#444" stroke="none">× 1.13</tspan></text><line x1="443.1" y1="337.7" x2="445.4" y2="337.7" stroke="#1a1a1a" stroke-width="0.6"/></g>
</svg>
<div class="t cap" style="top:915.5px"><b>Figure C.16:</b> Comparison of data and simulation for the signal region after applying the normali-</div>
<div class="t cap" style="top:937.9px">sation of the simultaneous fit. Statistical uncertainties as well as the systematic uncertainties from</div>
<div class="t cap l" style="top:960.2px">JES, JER and <i>b</i>-tagging are displayed. The last bin includes the overflow.</div>
</body></html>
